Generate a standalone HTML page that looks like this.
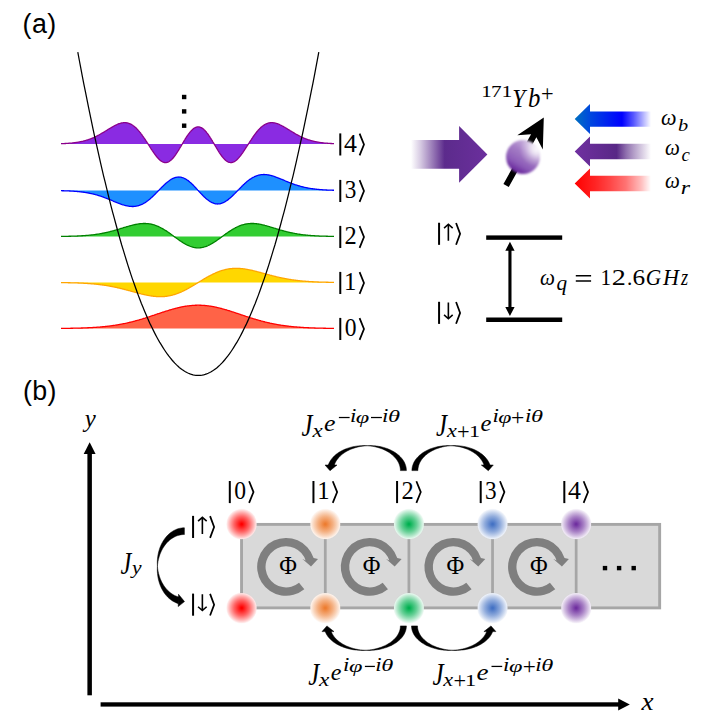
<!DOCTYPE html>
<html><head><meta charset="utf-8"><title>figure</title>
<style>
html,body{margin:0;padding:0;background:#fff;}
body{width:716px;height:723px;overflow:hidden;font-family:"Liberation Sans",sans-serif;}
svg{display:block;}
text{fill:#000;}
</style></head><body>
<svg width="716" height="723" viewBox="0 0 716 723">
<defs>
<linearGradient id="gBig" x1="0" x2="1" y1="0" y2="0">
<stop offset="0" stop-color="#5c2b8c" stop-opacity="0"/>
<stop offset="0.12" stop-color="#5c2b8c" stop-opacity="0.24"/>
<stop offset="0.44" stop-color="#5c2b8c" stop-opacity="1"/>
<stop offset="1" stop-color="#6b2f9d" stop-opacity="1"/>
</linearGradient>
<linearGradient id="gBlue" x1="0" x2="1" y1="0" y2="0">
<stop offset="0" stop-color="#0070c0"/>
<stop offset="0.2" stop-color="#0048de"/>
<stop offset="0.62" stop-color="#0000ff"/>
<stop offset="0.77" stop-color="#0000ff" stop-opacity="0.66"/>
<stop offset="0.87" stop-color="#0000ff" stop-opacity="0.38"/>
<stop offset="1" stop-color="#0000ff" stop-opacity="0"/>
</linearGradient>
<linearGradient id="gPur" x1="0" x2="1" y1="0" y2="0">
<stop offset="0" stop-color="#7030a0"/>
<stop offset="0.55" stop-color="#582886"/>
<stop offset="0.67" stop-color="#582886" stop-opacity="0.68"/>
<stop offset="0.77" stop-color="#582886" stop-opacity="0.46"/>
<stop offset="0.87" stop-color="#582886" stop-opacity="0.26"/>
<stop offset="1" stop-color="#582886" stop-opacity="0"/>
</linearGradient>
<linearGradient id="gRed" x1="0" x2="1" y1="0" y2="0">
<stop offset="0" stop-color="#ff0000"/>
<stop offset="0.27" stop-color="#ff0000" stop-opacity="0.86"/>
<stop offset="0.47" stop-color="#ff0000" stop-opacity="0.72"/>
<stop offset="0.67" stop-color="#ff0000" stop-opacity="0.55"/>
<stop offset="0.87" stop-color="#ff0000" stop-opacity="0.26"/>
<stop offset="1" stop-color="#ff0000" stop-opacity="0"/>
</linearGradient>
<linearGradient id="gIon" gradientUnits="userSpaceOnUse" x1="531.5" y1="142.3" x2="514.5" y2="171.7">
<stop offset="0" stop-color="#cbb4de"/>
<stop offset="0.37" stop-color="#a47cc6"/>
<stop offset="0.5" stop-color="#9c72c0"/>
<stop offset="0.63" stop-color="#9466bc"/>
<stop offset="0.75" stop-color="#8a58b6"/>
<stop offset="0.93" stop-color="#6e30a0"/>
<stop offset="1" stop-color="#6a2c98"/>
</linearGradient>
<radialGradient id="gIonH" gradientUnits="userSpaceOnUse" cx="537" cy="149" r="17.5">
<stop offset="0" stop-color="#fff" stop-opacity="0.95"/>
<stop offset="0.3" stop-color="#fff" stop-opacity="0.72"/>
<stop offset="0.65" stop-color="#fff" stop-opacity="0.3"/>
<stop offset="1" stop-color="#fff" stop-opacity="0"/>
</radialGradient>
<filter id="soft" x="-20%" y="-20%" width="140%" height="140%"><feGaussianBlur stdDeviation="1.1"/></filter>
<radialGradient id="ball0" cx="0.5" cy="0.5" r="0.5">
<stop offset="0" stop-color="#ff0000"/>
<stop offset="0.05" stop-color="#ff0000"/>
<stop offset="0.5" stop-color="#ff0000" stop-opacity="0.6"/>
<stop offset="0.75" stop-color="#ff0000" stop-opacity="0.33"/>
<stop offset="0.92" stop-color="#ff0000" stop-opacity="0.13"/>
<stop offset="1" stop-color="#ff0000" stop-opacity="0.03"/>
</radialGradient>
<radialGradient id="ball1" cx="0.5" cy="0.5" r="0.5">
<stop offset="0" stop-color="#ed7d31"/>
<stop offset="0.05" stop-color="#ed7d31"/>
<stop offset="0.5" stop-color="#ed7d31" stop-opacity="0.6"/>
<stop offset="0.75" stop-color="#ed7d31" stop-opacity="0.33"/>
<stop offset="0.92" stop-color="#ed7d31" stop-opacity="0.13"/>
<stop offset="1" stop-color="#ed7d31" stop-opacity="0.03"/>
</radialGradient>
<radialGradient id="ball2" cx="0.5" cy="0.5" r="0.5">
<stop offset="0" stop-color="#00b050"/>
<stop offset="0.05" stop-color="#00b050"/>
<stop offset="0.5" stop-color="#00b050" stop-opacity="0.6"/>
<stop offset="0.75" stop-color="#00b050" stop-opacity="0.33"/>
<stop offset="0.92" stop-color="#00b050" stop-opacity="0.13"/>
<stop offset="1" stop-color="#00b050" stop-opacity="0.03"/>
</radialGradient>
<radialGradient id="ball3" cx="0.5" cy="0.5" r="0.5">
<stop offset="0" stop-color="#4472c4"/>
<stop offset="0.05" stop-color="#4472c4"/>
<stop offset="0.5" stop-color="#4472c4" stop-opacity="0.6"/>
<stop offset="0.75" stop-color="#4472c4" stop-opacity="0.33"/>
<stop offset="0.92" stop-color="#4472c4" stop-opacity="0.13"/>
<stop offset="1" stop-color="#4472c4" stop-opacity="0.03"/>
</radialGradient>
<radialGradient id="ball4" cx="0.5" cy="0.5" r="0.5">
<stop offset="0" stop-color="#7030a0"/>
<stop offset="0.05" stop-color="#7030a0"/>
<stop offset="0.5" stop-color="#7030a0" stop-opacity="0.6"/>
<stop offset="0.75" stop-color="#7030a0" stop-opacity="0.33"/>
<stop offset="0.92" stop-color="#7030a0" stop-opacity="0.13"/>
<stop offset="1" stop-color="#7030a0" stop-opacity="0.03"/>
</radialGradient>
<radialGradient id="ballw" cx="0.5" cy="0.5" r="0.5">
<stop offset="0" stop-color="#fff"/>
<stop offset="0.93" stop-color="#fff"/>
<stop offset="1" stop-color="#fff" stop-opacity="0"/>
</radialGradient>
</defs>
<rect width="716" height="723" fill="#fff"/>
<text x="22.60" y="33.30" font-family="'Liberation Sans', sans-serif" font-size="26.8" text-anchor="start" letter-spacing="0.45">(a)</text>
<text x="22.90" y="400.20" font-family="'Liberation Sans', sans-serif" font-size="26.8" text-anchor="start" letter-spacing="0.45">(b)</text>
<path d="M61.0,144.00 L61.0,143.69 61.7,143.67 62.3,143.64 63.0,143.62 63.6,143.59 64.3,143.56 64.9,143.52 65.6,143.49 66.2,143.45 66.9,143.41 67.5,143.36 68.2,143.32 68.8,143.27 69.5,143.22 70.1,143.16 70.8,143.10 71.4,143.04 72.1,142.98 72.7,142.91 73.4,142.83 74.0,142.75 74.7,142.67 75.3,142.59 76.0,142.49 76.6,142.40 77.3,142.29 77.9,142.19 78.6,142.08 79.2,141.96 79.9,141.83 80.5,141.70 81.2,141.57 81.8,141.42 82.5,141.27 83.2,141.11 83.8,140.95 84.5,140.78 85.1,140.60 85.8,140.42 86.4,140.22 87.1,140.02 87.7,139.81 88.4,139.59 89.0,139.37 89.7,139.13 90.3,138.89 91.0,138.64 91.6,138.38 92.3,138.11 92.9,137.84 93.6,137.55 94.2,137.26 94.9,136.96 95.5,136.65 96.2,136.33 96.8,136.00 97.5,135.67 98.1,135.33 98.8,134.98 99.4,134.62 100.1,134.26 100.7,133.89 101.4,133.52 102.0,133.14 102.7,132.75 103.4,132.36 104.0,131.97 104.7,131.57 105.3,131.17 106.0,130.77 106.6,130.37 107.3,129.96 107.9,129.56 108.6,129.16 109.2,128.76 109.9,128.36 110.5,127.97 111.2,127.58 111.8,127.20 112.5,126.83 113.1,126.46 113.8,126.10 114.4,125.76 115.1,125.42 115.7,125.10 116.4,124.79 117.0,124.50 117.7,124.23 118.3,123.97 119.0,123.73 119.6,123.52 120.3,123.32 120.9,123.15 121.6,123.00 122.2,122.88 122.9,122.78 123.5,122.72 124.2,122.68 124.9,122.67 125.5,122.69 126.2,122.75 126.8,122.84 127.5,122.96 128.1,123.11 128.8,123.31 129.4,123.53 130.1,123.80 130.7,124.10 131.4,124.44 132.0,124.81 132.7,125.22 133.3,125.67 134.0,126.16 134.6,126.69 135.3,127.25 135.9,127.85 136.6,128.48 137.2,129.15 137.9,129.85 138.5,130.58 139.2,131.35 139.8,132.14 140.5,132.97 141.1,133.82 141.8,134.70 142.4,135.60 143.1,136.52 143.7,137.47 144.4,138.43 145.1,139.41 145.7,140.40 146.4,141.40 147.0,142.41 147.7,143.43 148.3,144.45 149.0,145.48 149.6,146.50 150.3,147.51 150.9,148.52 151.6,149.52 152.2,150.51 152.9,151.48 153.5,152.43 154.2,153.36 154.8,154.26 155.5,155.14 156.1,155.98 156.8,156.78 157.4,157.55 158.1,158.27 158.7,158.95 159.4,159.58 160.0,160.16 160.7,160.68 161.3,161.14 162.0,161.54 162.6,161.88 163.3,162.15 163.9,162.36 164.6,162.49 165.2,162.56 165.9,162.56 166.6,162.48 167.2,162.34 167.9,162.12 168.5,161.83 169.2,161.48 169.8,161.06 170.5,160.57 171.1,160.02 171.8,159.41 172.4,158.74 173.1,158.01 173.7,157.24 174.4,156.41 175.0,155.54 175.7,154.63 176.3,153.68 177.0,152.70 177.6,151.69 178.3,150.65 178.9,149.59 179.6,148.51 180.2,147.42 180.9,146.32 181.5,145.21 182.2,144.11 182.8,143.00 183.5,141.90 184.1,140.81 184.8,139.74 185.4,138.68 186.1,137.65 186.7,136.64 187.4,135.67 188.1,134.73 188.7,133.83 189.4,132.97 190.0,132.15 190.7,131.39 191.3,130.67 192.0,130.01 192.6,129.41 193.3,128.86 193.9,128.38 194.6,127.97 195.2,127.62 195.9,127.33 196.5,127.12 197.2,126.97 197.8,126.90 198.5,126.89 199.1,126.96 199.8,127.09 200.4,127.30 201.1,127.57 201.7,127.91 202.4,128.32 203.0,128.79 203.7,129.32 204.3,129.92 205.0,130.57 205.6,131.28 206.3,132.04 206.9,132.84 207.6,133.70 208.3,134.59 208.9,135.53 209.6,136.50 210.2,137.50 210.9,138.53 211.5,139.58 212.2,140.65 212.8,141.74 213.5,142.84 214.1,143.94 214.8,145.05 215.4,146.16 216.1,147.26 216.7,148.35 217.4,149.43 218.0,150.50 218.7,151.54 219.3,152.55 220.0,153.54 220.6,154.49 221.3,155.41 221.9,156.29 222.6,157.12 223.2,157.90 223.9,158.63 224.5,159.31 225.2,159.93 225.8,160.49 226.5,160.99 227.1,161.42 227.8,161.79 228.4,162.08 229.1,162.31 229.8,162.47 230.4,162.55 231.1,162.57 231.7,162.51 232.4,162.38 233.0,162.19 233.7,161.92 234.3,161.60 235.0,161.20 235.6,160.75 236.3,160.24 236.9,159.67 237.6,159.05 238.2,158.38 238.9,157.66 239.5,156.90 240.2,156.10 240.8,155.27 241.5,154.40 242.1,153.50 242.8,152.57 243.4,151.62 244.1,150.66 244.7,149.67 245.4,148.67 246.0,147.67 246.7,146.65 247.3,145.63 248.0,144.60 248.6,143.58 249.3,142.56 249.9,141.55 250.6,140.55 251.3,139.55 251.9,138.57 252.6,137.61 253.2,136.66 253.9,135.74 254.5,134.83 255.2,133.95 255.8,133.09 256.5,132.26 257.1,131.46 257.8,130.69 258.4,129.95 259.1,129.25 259.7,128.58 260.4,127.94 261.0,127.33 261.7,126.77 262.3,126.24 263.0,125.74 263.6,125.29 264.3,124.87 264.9,124.49 265.6,124.15 266.2,123.84 266.9,123.57 267.5,123.34 268.2,123.14 268.8,122.98 269.5,122.85 270.1,122.76 270.8,122.70 271.5,122.67 272.1,122.67 272.8,122.71 273.4,122.77 274.1,122.86 274.7,122.98 275.4,123.13 276.0,123.29 276.7,123.49 277.3,123.70 278.0,123.93 278.6,124.19 279.3,124.46 279.9,124.75 280.6,125.05 281.2,125.37 281.9,125.71 282.5,126.05 283.2,126.41 283.8,126.77 284.5,127.14 285.1,127.52 285.8,127.91 286.4,128.30 287.1,128.70 287.7,129.10 288.4,129.50 289.0,129.90 289.7,130.31 290.3,130.71 291.0,131.11 291.6,131.51 292.3,131.91 293.0,132.30 293.6,132.69 294.3,133.08 294.9,133.46 295.6,133.83 296.2,134.20 296.9,134.57 297.5,134.92 298.2,135.27 298.8,135.62 299.5,135.95 300.1,136.28 300.8,136.60 301.4,136.91 302.1,137.21 302.7,137.51 303.4,137.79 304.0,138.07 304.7,138.34 305.3,138.60 306.0,138.85 306.6,139.10 307.3,139.33 307.9,139.56 308.6,139.78 309.2,139.99 309.9,140.19 310.5,140.39 311.2,140.57 311.8,140.75 312.5,140.93 313.2,141.09 313.8,141.25 314.5,141.40 315.1,141.54 315.8,141.68 316.4,141.81 317.1,141.94 317.7,142.06 318.4,142.17 319.0,142.28 319.7,142.38 320.3,142.48 321.0,142.57 321.6,142.66 322.3,142.74 322.9,142.82 323.6,142.90 324.2,142.97 324.9,143.03 325.5,143.09 326.2,143.15 326.8,143.21 327.5,143.26 328.1,143.31 328.8,143.36 329.4,143.40 330.1,143.44 330.7,143.48 331.4,143.52 332.0,143.55 332.7,143.58 333.3,143.61 334.0,143.64 L334.0,144.00 Z" fill="#8a2be2"/>
<polyline points="61.0,143.69 61.7,143.67 62.3,143.64 63.0,143.62 63.6,143.59 64.3,143.56 64.9,143.52 65.6,143.49 66.2,143.45 66.9,143.41 67.5,143.36 68.2,143.32 68.8,143.27 69.5,143.22 70.1,143.16 70.8,143.10 71.4,143.04 72.1,142.98 72.7,142.91 73.4,142.83 74.0,142.75 74.7,142.67 75.3,142.59 76.0,142.49 76.6,142.40 77.3,142.29 77.9,142.19 78.6,142.08 79.2,141.96 79.9,141.83 80.5,141.70 81.2,141.57 81.8,141.42 82.5,141.27 83.2,141.11 83.8,140.95 84.5,140.78 85.1,140.60 85.8,140.42 86.4,140.22 87.1,140.02 87.7,139.81 88.4,139.59 89.0,139.37 89.7,139.13 90.3,138.89 91.0,138.64 91.6,138.38 92.3,138.11 92.9,137.84 93.6,137.55 94.2,137.26 94.9,136.96 95.5,136.65 96.2,136.33 96.8,136.00 97.5,135.67 98.1,135.33 98.8,134.98 99.4,134.62 100.1,134.26 100.7,133.89 101.4,133.52 102.0,133.14 102.7,132.75 103.4,132.36 104.0,131.97 104.7,131.57 105.3,131.17 106.0,130.77 106.6,130.37 107.3,129.96 107.9,129.56 108.6,129.16 109.2,128.76 109.9,128.36 110.5,127.97 111.2,127.58 111.8,127.20 112.5,126.83 113.1,126.46 113.8,126.10 114.4,125.76 115.1,125.42 115.7,125.10 116.4,124.79 117.0,124.50 117.7,124.23 118.3,123.97 119.0,123.73 119.6,123.52 120.3,123.32 120.9,123.15 121.6,123.00 122.2,122.88 122.9,122.78 123.5,122.72 124.2,122.68 124.9,122.67 125.5,122.69 126.2,122.75 126.8,122.84 127.5,122.96 128.1,123.11 128.8,123.31 129.4,123.53 130.1,123.80 130.7,124.10 131.4,124.44 132.0,124.81 132.7,125.22 133.3,125.67 134.0,126.16 134.6,126.69 135.3,127.25 135.9,127.85 136.6,128.48 137.2,129.15 137.9,129.85 138.5,130.58 139.2,131.35 139.8,132.14 140.5,132.97 141.1,133.82 141.8,134.70 142.4,135.60 143.1,136.52 143.7,137.47 144.4,138.43 145.1,139.41 145.7,140.40 146.4,141.40 147.0,142.41 147.7,143.43 148.3,144.45 149.0,145.48 149.6,146.50 150.3,147.51 150.9,148.52 151.6,149.52 152.2,150.51 152.9,151.48 153.5,152.43 154.2,153.36 154.8,154.26 155.5,155.14 156.1,155.98 156.8,156.78 157.4,157.55 158.1,158.27 158.7,158.95 159.4,159.58 160.0,160.16 160.7,160.68 161.3,161.14 162.0,161.54 162.6,161.88 163.3,162.15 163.9,162.36 164.6,162.49 165.2,162.56 165.9,162.56 166.6,162.48 167.2,162.34 167.9,162.12 168.5,161.83 169.2,161.48 169.8,161.06 170.5,160.57 171.1,160.02 171.8,159.41 172.4,158.74 173.1,158.01 173.7,157.24 174.4,156.41 175.0,155.54 175.7,154.63 176.3,153.68 177.0,152.70 177.6,151.69 178.3,150.65 178.9,149.59 179.6,148.51 180.2,147.42 180.9,146.32 181.5,145.21 182.2,144.11 182.8,143.00 183.5,141.90 184.1,140.81 184.8,139.74 185.4,138.68 186.1,137.65 186.7,136.64 187.4,135.67 188.1,134.73 188.7,133.83 189.4,132.97 190.0,132.15 190.7,131.39 191.3,130.67 192.0,130.01 192.6,129.41 193.3,128.86 193.9,128.38 194.6,127.97 195.2,127.62 195.9,127.33 196.5,127.12 197.2,126.97 197.8,126.90 198.5,126.89 199.1,126.96 199.8,127.09 200.4,127.30 201.1,127.57 201.7,127.91 202.4,128.32 203.0,128.79 203.7,129.32 204.3,129.92 205.0,130.57 205.6,131.28 206.3,132.04 206.9,132.84 207.6,133.70 208.3,134.59 208.9,135.53 209.6,136.50 210.2,137.50 210.9,138.53 211.5,139.58 212.2,140.65 212.8,141.74 213.5,142.84 214.1,143.94 214.8,145.05 215.4,146.16 216.1,147.26 216.7,148.35 217.4,149.43 218.0,150.50 218.7,151.54 219.3,152.55 220.0,153.54 220.6,154.49 221.3,155.41 221.9,156.29 222.6,157.12 223.2,157.90 223.9,158.63 224.5,159.31 225.2,159.93 225.8,160.49 226.5,160.99 227.1,161.42 227.8,161.79 228.4,162.08 229.1,162.31 229.8,162.47 230.4,162.55 231.1,162.57 231.7,162.51 232.4,162.38 233.0,162.19 233.7,161.92 234.3,161.60 235.0,161.20 235.6,160.75 236.3,160.24 236.9,159.67 237.6,159.05 238.2,158.38 238.9,157.66 239.5,156.90 240.2,156.10 240.8,155.27 241.5,154.40 242.1,153.50 242.8,152.57 243.4,151.62 244.1,150.66 244.7,149.67 245.4,148.67 246.0,147.67 246.7,146.65 247.3,145.63 248.0,144.60 248.6,143.58 249.3,142.56 249.9,141.55 250.6,140.55 251.3,139.55 251.9,138.57 252.6,137.61 253.2,136.66 253.9,135.74 254.5,134.83 255.2,133.95 255.8,133.09 256.5,132.26 257.1,131.46 257.8,130.69 258.4,129.95 259.1,129.25 259.7,128.58 260.4,127.94 261.0,127.33 261.7,126.77 262.3,126.24 263.0,125.74 263.6,125.29 264.3,124.87 264.9,124.49 265.6,124.15 266.2,123.84 266.9,123.57 267.5,123.34 268.2,123.14 268.8,122.98 269.5,122.85 270.1,122.76 270.8,122.70 271.5,122.67 272.1,122.67 272.8,122.71 273.4,122.77 274.1,122.86 274.7,122.98 275.4,123.13 276.0,123.29 276.7,123.49 277.3,123.70 278.0,123.93 278.6,124.19 279.3,124.46 279.9,124.75 280.6,125.05 281.2,125.37 281.9,125.71 282.5,126.05 283.2,126.41 283.8,126.77 284.5,127.14 285.1,127.52 285.8,127.91 286.4,128.30 287.1,128.70 287.7,129.10 288.4,129.50 289.0,129.90 289.7,130.31 290.3,130.71 291.0,131.11 291.6,131.51 292.3,131.91 293.0,132.30 293.6,132.69 294.3,133.08 294.9,133.46 295.6,133.83 296.2,134.20 296.9,134.57 297.5,134.92 298.2,135.27 298.8,135.62 299.5,135.95 300.1,136.28 300.8,136.60 301.4,136.91 302.1,137.21 302.7,137.51 303.4,137.79 304.0,138.07 304.7,138.34 305.3,138.60 306.0,138.85 306.6,139.10 307.3,139.33 307.9,139.56 308.6,139.78 309.2,139.99 309.9,140.19 310.5,140.39 311.2,140.57 311.8,140.75 312.5,140.93 313.2,141.09 313.8,141.25 314.5,141.40 315.1,141.54 315.8,141.68 316.4,141.81 317.1,141.94 317.7,142.06 318.4,142.17 319.0,142.28 319.7,142.38 320.3,142.48 321.0,142.57 321.6,142.66 322.3,142.74 322.9,142.82 323.6,142.90 324.2,142.97 324.9,143.03 325.5,143.09 326.2,143.15 326.8,143.21 327.5,143.26 328.1,143.31 328.8,143.36 329.4,143.40 330.1,143.44 330.7,143.48 331.4,143.52 332.0,143.55 332.7,143.58 333.3,143.61 334.0,143.64" fill="none" stroke="#8b008b" stroke-width="1.3" stroke-linejoin="round"/>
<path d="M61.0,190.50 L61.0,190.70 61.7,190.71 62.3,190.73 63.0,190.75 63.6,190.76 64.3,190.78 64.9,190.80 65.6,190.82 66.2,190.85 66.9,190.87 67.5,190.90 68.2,190.92 68.8,190.95 69.5,190.98 70.1,191.01 70.8,191.05 71.4,191.08 72.1,191.12 72.7,191.16 73.4,191.20 74.0,191.24 74.7,191.29 75.3,191.34 76.0,191.39 76.6,191.44 77.3,191.50 77.9,191.56 78.6,191.62 79.2,191.69 79.9,191.76 80.5,191.83 81.2,191.91 81.8,191.98 82.5,192.07 83.2,192.15 83.8,192.24 84.5,192.34 85.1,192.44 85.8,192.54 86.4,192.64 87.1,192.75 87.7,192.87 88.4,192.99 89.0,193.11 89.7,193.24 90.3,193.38 91.0,193.52 91.6,193.66 92.3,193.81 92.9,193.96 93.6,194.12 94.2,194.28 94.9,194.45 95.5,194.63 96.2,194.81 96.8,194.99 97.5,195.18 98.1,195.38 98.8,195.58 99.4,195.78 100.1,195.99 100.7,196.21 101.4,196.43 102.0,196.65 102.7,196.88 103.4,197.12 104.0,197.36 104.7,197.60 105.3,197.85 106.0,198.10 106.6,198.35 107.3,198.61 107.9,198.87 108.6,199.13 109.2,199.40 109.9,199.67 110.5,199.94 111.2,200.21 111.8,200.48 112.5,200.75 113.1,201.03 113.8,201.30 114.4,201.57 115.1,201.84 115.7,202.11 116.4,202.38 117.0,202.64 117.7,202.90 118.3,203.16 119.0,203.41 119.6,203.66 120.3,203.90 120.9,204.13 121.6,204.36 122.2,204.58 122.9,204.79 123.5,204.99 124.2,205.19 124.9,205.37 125.5,205.54 126.2,205.70 126.8,205.84 127.5,205.98 128.1,206.10 128.8,206.20 129.4,206.29 130.1,206.37 130.7,206.42 131.4,206.46 132.0,206.49 132.7,206.49 133.3,206.48 134.0,206.44 134.6,206.39 135.3,206.31 135.9,206.22 136.6,206.11 137.2,205.97 137.9,205.81 138.5,205.63 139.2,205.43 139.8,205.20 140.5,204.96 141.1,204.69 141.8,204.40 142.4,204.08 143.1,203.75 143.7,203.39 144.4,203.01 145.1,202.61 145.7,202.18 146.4,201.74 147.0,201.28 147.7,200.79 148.3,200.29 149.0,199.77 149.6,199.23 150.3,198.68 150.9,198.11 151.6,197.52 152.2,196.92 152.9,196.31 153.5,195.68 154.2,195.05 154.8,194.40 155.5,193.75 156.1,193.09 156.8,192.42 157.4,191.75 158.1,191.08 158.7,190.40 159.4,189.73 160.0,189.06 160.7,188.39 161.3,187.73 162.0,187.07 162.6,186.42 163.3,185.78 163.9,185.15 164.6,184.53 165.2,183.93 165.9,183.35 166.6,182.78 167.2,182.23 167.9,181.70 168.5,181.19 169.2,180.71 169.8,180.25 170.5,179.82 171.1,179.41 171.8,179.03 172.4,178.69 173.1,178.37 173.7,178.08 174.4,177.83 175.0,177.61 175.7,177.42 176.3,177.27 177.0,177.16 177.6,177.08 178.3,177.03 178.9,177.02 179.6,177.05 180.2,177.12 180.9,177.22 181.5,177.35 182.2,177.53 182.8,177.74 183.5,177.98 184.1,178.26 184.8,178.57 185.4,178.92 186.1,179.30 186.7,179.71 187.4,180.15 188.1,180.61 188.7,181.11 189.4,181.63 190.0,182.18 190.7,182.75 191.3,183.35 192.0,183.96 192.6,184.59 193.3,185.24 193.9,185.90 194.6,186.58 195.2,187.27 195.9,187.96 196.5,188.67 197.2,189.38 197.8,190.09 198.5,190.80 199.1,191.52 199.8,192.23 200.4,192.93 201.1,193.63 201.7,194.32 202.4,195.00 203.0,195.66 203.7,196.31 204.3,196.95 205.0,197.56 205.6,198.16 206.3,198.74 206.9,199.29 207.6,199.81 208.3,200.31 208.9,200.79 209.6,201.23 210.2,201.64 210.9,202.03 211.5,202.38 212.2,202.70 212.8,202.98 213.5,203.23 214.1,203.44 214.8,203.62 215.4,203.76 216.1,203.87 216.7,203.94 217.4,203.98 218.0,203.97 218.7,203.93 219.3,203.86 220.0,203.75 220.6,203.60 221.3,203.42 221.9,203.21 222.6,202.96 223.2,202.68 223.9,202.36 224.5,202.02 225.2,201.65 225.8,201.25 226.5,200.82 227.1,200.36 227.8,199.88 228.4,199.38 229.1,198.85 229.8,198.31 230.4,197.74 231.1,197.16 231.7,196.56 232.4,195.94 233.0,195.32 233.7,194.68 234.3,194.03 235.0,193.37 235.6,192.71 236.3,192.04 236.9,191.37 237.6,190.70 238.2,190.02 238.9,189.35 239.5,188.68 240.2,188.01 240.8,187.35 241.5,186.69 242.1,186.05 242.8,185.41 243.4,184.78 244.1,184.17 244.7,183.57 245.4,182.98 246.0,182.41 246.7,181.85 247.3,181.31 248.0,180.78 248.6,180.28 249.3,179.79 249.9,179.33 250.6,178.88 251.3,178.45 251.9,178.05 252.6,177.67 253.2,177.31 253.9,176.97 254.5,176.65 255.2,176.35 255.8,176.08 256.5,175.83 257.1,175.60 257.8,175.40 258.4,175.21 259.1,175.05 259.7,174.91 260.4,174.80 261.0,174.70 261.7,174.62 262.3,174.56 263.0,174.53 263.6,174.51 264.3,174.51 264.9,174.53 265.6,174.57 266.2,174.63 266.9,174.70 267.5,174.78 268.2,174.89 268.8,175.00 269.5,175.13 270.1,175.28 270.8,175.44 271.5,175.61 272.1,175.79 272.8,175.98 273.4,176.18 274.1,176.39 274.7,176.61 275.4,176.83 276.0,177.07 276.7,177.31 277.3,177.55 278.0,177.80 278.6,178.06 279.3,178.32 279.9,178.58 280.6,178.85 281.2,179.12 281.9,179.39 282.5,179.66 283.2,179.93 283.8,180.21 284.5,180.48 285.1,180.75 285.8,181.02 286.4,181.29 287.1,181.56 287.7,181.83 288.4,182.09 289.0,182.35 289.7,182.61 290.3,182.86 291.0,183.12 291.6,183.36 292.3,183.61 293.0,183.85 293.6,184.08 294.3,184.31 294.9,184.54 295.6,184.76 296.2,184.97 296.9,185.19 297.5,185.39 298.2,185.59 298.8,185.79 299.5,185.98 300.1,186.17 300.8,186.35 301.4,186.52 302.1,186.69 302.7,186.86 303.4,187.01 304.0,187.17 304.7,187.32 305.3,187.46 306.0,187.60 306.6,187.74 307.3,187.87 307.9,187.99 308.6,188.11 309.2,188.23 309.9,188.34 310.5,188.45 311.2,188.55 311.8,188.65 312.5,188.74 313.2,188.83 313.8,188.92 314.5,189.00 315.1,189.08 315.8,189.16 316.4,189.23 317.1,189.30 317.7,189.37 318.4,189.43 319.0,189.49 319.7,189.55 320.3,189.60 321.0,189.65 321.6,189.70 322.3,189.75 322.9,189.79 323.6,189.84 324.2,189.88 324.9,189.91 325.5,189.95 326.2,189.98 326.8,190.01 327.5,190.04 328.1,190.07 328.8,190.10 329.4,190.13 330.1,190.15 330.7,190.17 331.4,190.19 332.0,190.21 332.7,190.23 333.3,190.25 334.0,190.27 L334.0,190.50 Z" fill="#1e90ff"/>
<polyline points="61.0,190.70 61.7,190.71 62.3,190.73 63.0,190.75 63.6,190.76 64.3,190.78 64.9,190.80 65.6,190.82 66.2,190.85 66.9,190.87 67.5,190.90 68.2,190.92 68.8,190.95 69.5,190.98 70.1,191.01 70.8,191.05 71.4,191.08 72.1,191.12 72.7,191.16 73.4,191.20 74.0,191.24 74.7,191.29 75.3,191.34 76.0,191.39 76.6,191.44 77.3,191.50 77.9,191.56 78.6,191.62 79.2,191.69 79.9,191.76 80.5,191.83 81.2,191.91 81.8,191.98 82.5,192.07 83.2,192.15 83.8,192.24 84.5,192.34 85.1,192.44 85.8,192.54 86.4,192.64 87.1,192.75 87.7,192.87 88.4,192.99 89.0,193.11 89.7,193.24 90.3,193.38 91.0,193.52 91.6,193.66 92.3,193.81 92.9,193.96 93.6,194.12 94.2,194.28 94.9,194.45 95.5,194.63 96.2,194.81 96.8,194.99 97.5,195.18 98.1,195.38 98.8,195.58 99.4,195.78 100.1,195.99 100.7,196.21 101.4,196.43 102.0,196.65 102.7,196.88 103.4,197.12 104.0,197.36 104.7,197.60 105.3,197.85 106.0,198.10 106.6,198.35 107.3,198.61 107.9,198.87 108.6,199.13 109.2,199.40 109.9,199.67 110.5,199.94 111.2,200.21 111.8,200.48 112.5,200.75 113.1,201.03 113.8,201.30 114.4,201.57 115.1,201.84 115.7,202.11 116.4,202.38 117.0,202.64 117.7,202.90 118.3,203.16 119.0,203.41 119.6,203.66 120.3,203.90 120.9,204.13 121.6,204.36 122.2,204.58 122.9,204.79 123.5,204.99 124.2,205.19 124.9,205.37 125.5,205.54 126.2,205.70 126.8,205.84 127.5,205.98 128.1,206.10 128.8,206.20 129.4,206.29 130.1,206.37 130.7,206.42 131.4,206.46 132.0,206.49 132.7,206.49 133.3,206.48 134.0,206.44 134.6,206.39 135.3,206.31 135.9,206.22 136.6,206.11 137.2,205.97 137.9,205.81 138.5,205.63 139.2,205.43 139.8,205.20 140.5,204.96 141.1,204.69 141.8,204.40 142.4,204.08 143.1,203.75 143.7,203.39 144.4,203.01 145.1,202.61 145.7,202.18 146.4,201.74 147.0,201.28 147.7,200.79 148.3,200.29 149.0,199.77 149.6,199.23 150.3,198.68 150.9,198.11 151.6,197.52 152.2,196.92 152.9,196.31 153.5,195.68 154.2,195.05 154.8,194.40 155.5,193.75 156.1,193.09 156.8,192.42 157.4,191.75 158.1,191.08 158.7,190.40 159.4,189.73 160.0,189.06 160.7,188.39 161.3,187.73 162.0,187.07 162.6,186.42 163.3,185.78 163.9,185.15 164.6,184.53 165.2,183.93 165.9,183.35 166.6,182.78 167.2,182.23 167.9,181.70 168.5,181.19 169.2,180.71 169.8,180.25 170.5,179.82 171.1,179.41 171.8,179.03 172.4,178.69 173.1,178.37 173.7,178.08 174.4,177.83 175.0,177.61 175.7,177.42 176.3,177.27 177.0,177.16 177.6,177.08 178.3,177.03 178.9,177.02 179.6,177.05 180.2,177.12 180.9,177.22 181.5,177.35 182.2,177.53 182.8,177.74 183.5,177.98 184.1,178.26 184.8,178.57 185.4,178.92 186.1,179.30 186.7,179.71 187.4,180.15 188.1,180.61 188.7,181.11 189.4,181.63 190.0,182.18 190.7,182.75 191.3,183.35 192.0,183.96 192.6,184.59 193.3,185.24 193.9,185.90 194.6,186.58 195.2,187.27 195.9,187.96 196.5,188.67 197.2,189.38 197.8,190.09 198.5,190.80 199.1,191.52 199.8,192.23 200.4,192.93 201.1,193.63 201.7,194.32 202.4,195.00 203.0,195.66 203.7,196.31 204.3,196.95 205.0,197.56 205.6,198.16 206.3,198.74 206.9,199.29 207.6,199.81 208.3,200.31 208.9,200.79 209.6,201.23 210.2,201.64 210.9,202.03 211.5,202.38 212.2,202.70 212.8,202.98 213.5,203.23 214.1,203.44 214.8,203.62 215.4,203.76 216.1,203.87 216.7,203.94 217.4,203.98 218.0,203.97 218.7,203.93 219.3,203.86 220.0,203.75 220.6,203.60 221.3,203.42 221.9,203.21 222.6,202.96 223.2,202.68 223.9,202.36 224.5,202.02 225.2,201.65 225.8,201.25 226.5,200.82 227.1,200.36 227.8,199.88 228.4,199.38 229.1,198.85 229.8,198.31 230.4,197.74 231.1,197.16 231.7,196.56 232.4,195.94 233.0,195.32 233.7,194.68 234.3,194.03 235.0,193.37 235.6,192.71 236.3,192.04 236.9,191.37 237.6,190.70 238.2,190.02 238.9,189.35 239.5,188.68 240.2,188.01 240.8,187.35 241.5,186.69 242.1,186.05 242.8,185.41 243.4,184.78 244.1,184.17 244.7,183.57 245.4,182.98 246.0,182.41 246.7,181.85 247.3,181.31 248.0,180.78 248.6,180.28 249.3,179.79 249.9,179.33 250.6,178.88 251.3,178.45 251.9,178.05 252.6,177.67 253.2,177.31 253.9,176.97 254.5,176.65 255.2,176.35 255.8,176.08 256.5,175.83 257.1,175.60 257.8,175.40 258.4,175.21 259.1,175.05 259.7,174.91 260.4,174.80 261.0,174.70 261.7,174.62 262.3,174.56 263.0,174.53 263.6,174.51 264.3,174.51 264.9,174.53 265.6,174.57 266.2,174.63 266.9,174.70 267.5,174.78 268.2,174.89 268.8,175.00 269.5,175.13 270.1,175.28 270.8,175.44 271.5,175.61 272.1,175.79 272.8,175.98 273.4,176.18 274.1,176.39 274.7,176.61 275.4,176.83 276.0,177.07 276.7,177.31 277.3,177.55 278.0,177.80 278.6,178.06 279.3,178.32 279.9,178.58 280.6,178.85 281.2,179.12 281.9,179.39 282.5,179.66 283.2,179.93 283.8,180.21 284.5,180.48 285.1,180.75 285.8,181.02 286.4,181.29 287.1,181.56 287.7,181.83 288.4,182.09 289.0,182.35 289.7,182.61 290.3,182.86 291.0,183.12 291.6,183.36 292.3,183.61 293.0,183.85 293.6,184.08 294.3,184.31 294.9,184.54 295.6,184.76 296.2,184.97 296.9,185.19 297.5,185.39 298.2,185.59 298.8,185.79 299.5,185.98 300.1,186.17 300.8,186.35 301.4,186.52 302.1,186.69 302.7,186.86 303.4,187.01 304.0,187.17 304.7,187.32 305.3,187.46 306.0,187.60 306.6,187.74 307.3,187.87 307.9,187.99 308.6,188.11 309.2,188.23 309.9,188.34 310.5,188.45 311.2,188.55 311.8,188.65 312.5,188.74 313.2,188.83 313.8,188.92 314.5,189.00 315.1,189.08 315.8,189.16 316.4,189.23 317.1,189.30 317.7,189.37 318.4,189.43 319.0,189.49 319.7,189.55 320.3,189.60 321.0,189.65 321.6,189.70 322.3,189.75 322.9,189.79 323.6,189.84 324.2,189.88 324.9,189.91 325.5,189.95 326.2,189.98 326.8,190.01 327.5,190.04 328.1,190.07 328.8,190.10 329.4,190.13 330.1,190.15 330.7,190.17 331.4,190.19 332.0,190.21 332.7,190.23 333.3,190.25 334.0,190.27" fill="none" stroke="#0000ff" stroke-width="1.3" stroke-linejoin="round"/>
<path d="M61.0,236.50 L61.0,236.40 61.7,236.39 62.3,236.38 63.0,236.37 63.6,236.36 64.3,236.35 64.9,236.34 65.6,236.33 66.2,236.32 66.9,236.31 67.5,236.30 68.2,236.29 68.8,236.27 69.5,236.26 70.1,236.24 70.8,236.23 71.4,236.21 72.1,236.19 72.7,236.17 73.4,236.15 74.0,236.13 74.7,236.11 75.3,236.08 76.0,236.06 76.6,236.03 77.3,236.00 77.9,235.98 78.6,235.95 79.2,235.91 79.9,235.88 80.5,235.85 81.2,235.81 81.8,235.77 82.5,235.73 83.2,235.69 83.8,235.64 84.5,235.60 85.1,235.55 85.8,235.50 86.4,235.45 87.1,235.39 87.7,235.34 88.4,235.28 89.0,235.21 89.7,235.15 90.3,235.08 91.0,235.01 91.6,234.94 92.3,234.87 92.9,234.79 93.6,234.71 94.2,234.62 94.9,234.54 95.5,234.45 96.2,234.36 96.8,234.26 97.5,234.16 98.1,234.06 98.8,233.95 99.4,233.84 100.1,233.73 100.7,233.62 101.4,233.50 102.0,233.37 102.7,233.25 103.4,233.12 104.0,232.99 104.7,232.85 105.3,232.71 106.0,232.57 106.6,232.42 107.3,232.27 107.9,232.12 108.6,231.96 109.2,231.80 109.9,231.64 110.5,231.47 111.2,231.30 111.8,231.13 112.5,230.96 113.1,230.78 113.8,230.60 114.4,230.41 115.1,230.23 115.7,230.04 116.4,229.85 117.0,229.66 117.7,229.47 118.3,229.27 119.0,229.08 119.6,228.88 120.3,228.68 120.9,228.48 121.6,228.28 122.2,228.08 122.9,227.88 123.5,227.68 124.2,227.48 124.9,227.28 125.5,227.09 126.2,226.89 126.8,226.70 127.5,226.51 128.1,226.32 128.8,226.13 129.4,225.95 130.1,225.77 130.7,225.59 131.4,225.42 132.0,225.26 132.7,225.09 133.3,224.94 134.0,224.79 134.6,224.64 135.3,224.50 135.9,224.37 136.6,224.25 137.2,224.13 137.9,224.03 138.5,223.93 139.2,223.84 139.8,223.75 140.5,223.68 141.1,223.62 141.8,223.57 142.4,223.53 143.1,223.50 143.7,223.48 144.4,223.47 145.1,223.48 145.7,223.50 146.4,223.53 147.0,223.57 147.7,223.63 148.3,223.69 149.0,223.78 149.6,223.87 150.3,223.98 150.9,224.11 151.6,224.24 152.2,224.39 152.9,224.56 153.5,224.74 154.2,224.93 154.8,225.14 155.5,225.36 156.1,225.60 156.8,225.85 157.4,226.11 158.1,226.39 158.7,226.68 159.4,226.98 160.0,227.30 160.7,227.63 161.3,227.97 162.0,228.32 162.6,228.69 163.3,229.06 163.9,229.45 164.6,229.85 165.2,230.26 165.9,230.67 166.6,231.10 167.2,231.53 167.9,231.97 168.5,232.42 169.2,232.88 169.8,233.34 170.5,233.80 171.1,234.27 171.8,234.74 172.4,235.22 173.1,235.70 173.7,236.18 174.4,236.66 175.0,237.14 175.7,237.61 176.3,238.09 177.0,238.56 177.6,239.03 178.3,239.50 178.9,239.96 179.6,240.42 180.2,240.86 180.9,241.31 181.5,241.74 182.2,242.16 182.8,242.57 183.5,242.98 184.1,243.37 184.8,243.75 185.4,244.11 186.1,244.47 186.7,244.80 187.4,245.13 188.1,245.43 188.7,245.73 189.4,246.00 190.0,246.26 190.7,246.50 191.3,246.72 192.0,246.92 192.6,247.11 193.3,247.27 193.9,247.42 194.6,247.54 195.2,247.65 195.9,247.73 196.5,247.80 197.2,247.84 197.8,247.86 198.5,247.86 199.1,247.84 199.8,247.80 200.4,247.74 201.1,247.66 201.7,247.56 202.4,247.44 203.0,247.30 203.7,247.13 204.3,246.95 205.0,246.75 205.6,246.53 206.3,246.30 206.9,246.04 207.6,245.77 208.3,245.48 208.9,245.17 209.6,244.85 210.2,244.52 210.9,244.17 211.5,243.80 212.2,243.42 212.8,243.04 213.5,242.63 214.1,242.22 214.8,241.80 215.4,241.37 216.1,240.93 216.7,240.48 217.4,240.03 218.0,239.57 218.7,239.10 219.3,238.63 220.0,238.16 220.6,237.68 221.3,237.21 221.9,236.73 222.6,236.25 223.2,235.77 223.9,235.29 224.5,234.81 225.2,234.34 225.8,233.87 226.5,233.40 227.1,232.94 227.8,232.49 228.4,232.04 229.1,231.60 229.8,231.16 230.4,230.74 231.1,230.32 231.7,229.91 232.4,229.51 233.0,229.12 233.7,228.74 234.3,228.38 235.0,228.02 235.6,227.68 236.3,227.35 236.9,227.03 237.6,226.72 238.2,226.43 238.9,226.15 239.5,225.89 240.2,225.63 240.8,225.40 241.5,225.17 242.1,224.96 242.8,224.77 243.4,224.58 244.1,224.42 244.7,224.26 245.4,224.12 246.0,224.00 246.7,223.89 247.3,223.79 248.0,223.71 248.6,223.63 249.3,223.58 249.9,223.53 250.6,223.50 251.3,223.48 251.9,223.47 252.6,223.48 253.2,223.50 253.9,223.52 254.5,223.56 255.2,223.61 255.8,223.67 256.5,223.74 257.1,223.82 257.8,223.91 258.4,224.01 259.1,224.12 259.7,224.23 260.4,224.35 261.0,224.48 261.7,224.62 262.3,224.76 263.0,224.91 263.6,225.07 264.3,225.23 264.9,225.40 265.6,225.57 266.2,225.74 266.9,225.92 267.5,226.10 268.2,226.29 268.8,226.48 269.5,226.67 270.1,226.86 270.8,227.06 271.5,227.26 272.1,227.45 272.8,227.65 273.4,227.85 274.1,228.05 274.7,228.25 275.4,228.45 276.0,228.65 276.7,228.85 277.3,229.05 278.0,229.24 278.6,229.44 279.3,229.63 279.9,229.82 280.6,230.01 281.2,230.20 281.9,230.39 282.5,230.57 283.2,230.75 283.8,230.93 284.5,231.10 285.1,231.28 285.8,231.45 286.4,231.61 287.1,231.78 287.7,231.94 288.4,232.09 289.0,232.25 289.7,232.40 290.3,232.55 291.0,232.69 291.6,232.83 292.3,232.97 293.0,233.10 293.6,233.23 294.3,233.36 294.9,233.48 295.6,233.60 296.2,233.71 296.9,233.83 297.5,233.94 298.2,234.04 298.8,234.15 299.5,234.25 300.1,234.34 300.8,234.43 301.4,234.53 302.1,234.61 302.7,234.70 303.4,234.78 304.0,234.86 304.7,234.93 305.3,235.00 306.0,235.07 306.6,235.14 307.3,235.20 307.9,235.27 308.6,235.33 309.2,235.38 309.9,235.44 310.5,235.49 311.2,235.54 311.8,235.59 312.5,235.64 313.2,235.68 313.8,235.72 314.5,235.76 315.1,235.80 315.8,235.84 316.4,235.88 317.1,235.91 317.7,235.94 318.4,235.97 319.0,236.00 319.7,236.03 320.3,236.05 321.0,236.08 321.6,236.10 322.3,236.13 322.9,236.15 323.6,236.17 324.2,236.19 324.9,236.21 325.5,236.22 326.2,236.24 326.8,236.26 327.5,236.27 328.1,236.28 328.8,236.30 329.4,236.31 330.1,236.32 330.7,236.33 331.4,236.34 332.0,236.35 332.7,236.36 333.3,236.37 334.0,236.38 L334.0,236.50 Z" fill="#32cd32"/>
<polyline points="61.0,236.40 61.7,236.39 62.3,236.38 63.0,236.37 63.6,236.36 64.3,236.35 64.9,236.34 65.6,236.33 66.2,236.32 66.9,236.31 67.5,236.30 68.2,236.29 68.8,236.27 69.5,236.26 70.1,236.24 70.8,236.23 71.4,236.21 72.1,236.19 72.7,236.17 73.4,236.15 74.0,236.13 74.7,236.11 75.3,236.08 76.0,236.06 76.6,236.03 77.3,236.00 77.9,235.98 78.6,235.95 79.2,235.91 79.9,235.88 80.5,235.85 81.2,235.81 81.8,235.77 82.5,235.73 83.2,235.69 83.8,235.64 84.5,235.60 85.1,235.55 85.8,235.50 86.4,235.45 87.1,235.39 87.7,235.34 88.4,235.28 89.0,235.21 89.7,235.15 90.3,235.08 91.0,235.01 91.6,234.94 92.3,234.87 92.9,234.79 93.6,234.71 94.2,234.62 94.9,234.54 95.5,234.45 96.2,234.36 96.8,234.26 97.5,234.16 98.1,234.06 98.8,233.95 99.4,233.84 100.1,233.73 100.7,233.62 101.4,233.50 102.0,233.37 102.7,233.25 103.4,233.12 104.0,232.99 104.7,232.85 105.3,232.71 106.0,232.57 106.6,232.42 107.3,232.27 107.9,232.12 108.6,231.96 109.2,231.80 109.9,231.64 110.5,231.47 111.2,231.30 111.8,231.13 112.5,230.96 113.1,230.78 113.8,230.60 114.4,230.41 115.1,230.23 115.7,230.04 116.4,229.85 117.0,229.66 117.7,229.47 118.3,229.27 119.0,229.08 119.6,228.88 120.3,228.68 120.9,228.48 121.6,228.28 122.2,228.08 122.9,227.88 123.5,227.68 124.2,227.48 124.9,227.28 125.5,227.09 126.2,226.89 126.8,226.70 127.5,226.51 128.1,226.32 128.8,226.13 129.4,225.95 130.1,225.77 130.7,225.59 131.4,225.42 132.0,225.26 132.7,225.09 133.3,224.94 134.0,224.79 134.6,224.64 135.3,224.50 135.9,224.37 136.6,224.25 137.2,224.13 137.9,224.03 138.5,223.93 139.2,223.84 139.8,223.75 140.5,223.68 141.1,223.62 141.8,223.57 142.4,223.53 143.1,223.50 143.7,223.48 144.4,223.47 145.1,223.48 145.7,223.50 146.4,223.53 147.0,223.57 147.7,223.63 148.3,223.69 149.0,223.78 149.6,223.87 150.3,223.98 150.9,224.11 151.6,224.24 152.2,224.39 152.9,224.56 153.5,224.74 154.2,224.93 154.8,225.14 155.5,225.36 156.1,225.60 156.8,225.85 157.4,226.11 158.1,226.39 158.7,226.68 159.4,226.98 160.0,227.30 160.7,227.63 161.3,227.97 162.0,228.32 162.6,228.69 163.3,229.06 163.9,229.45 164.6,229.85 165.2,230.26 165.9,230.67 166.6,231.10 167.2,231.53 167.9,231.97 168.5,232.42 169.2,232.88 169.8,233.34 170.5,233.80 171.1,234.27 171.8,234.74 172.4,235.22 173.1,235.70 173.7,236.18 174.4,236.66 175.0,237.14 175.7,237.61 176.3,238.09 177.0,238.56 177.6,239.03 178.3,239.50 178.9,239.96 179.6,240.42 180.2,240.86 180.9,241.31 181.5,241.74 182.2,242.16 182.8,242.57 183.5,242.98 184.1,243.37 184.8,243.75 185.4,244.11 186.1,244.47 186.7,244.80 187.4,245.13 188.1,245.43 188.7,245.73 189.4,246.00 190.0,246.26 190.7,246.50 191.3,246.72 192.0,246.92 192.6,247.11 193.3,247.27 193.9,247.42 194.6,247.54 195.2,247.65 195.9,247.73 196.5,247.80 197.2,247.84 197.8,247.86 198.5,247.86 199.1,247.84 199.8,247.80 200.4,247.74 201.1,247.66 201.7,247.56 202.4,247.44 203.0,247.30 203.7,247.13 204.3,246.95 205.0,246.75 205.6,246.53 206.3,246.30 206.9,246.04 207.6,245.77 208.3,245.48 208.9,245.17 209.6,244.85 210.2,244.52 210.9,244.17 211.5,243.80 212.2,243.42 212.8,243.04 213.5,242.63 214.1,242.22 214.8,241.80 215.4,241.37 216.1,240.93 216.7,240.48 217.4,240.03 218.0,239.57 218.7,239.10 219.3,238.63 220.0,238.16 220.6,237.68 221.3,237.21 221.9,236.73 222.6,236.25 223.2,235.77 223.9,235.29 224.5,234.81 225.2,234.34 225.8,233.87 226.5,233.40 227.1,232.94 227.8,232.49 228.4,232.04 229.1,231.60 229.8,231.16 230.4,230.74 231.1,230.32 231.7,229.91 232.4,229.51 233.0,229.12 233.7,228.74 234.3,228.38 235.0,228.02 235.6,227.68 236.3,227.35 236.9,227.03 237.6,226.72 238.2,226.43 238.9,226.15 239.5,225.89 240.2,225.63 240.8,225.40 241.5,225.17 242.1,224.96 242.8,224.77 243.4,224.58 244.1,224.42 244.7,224.26 245.4,224.12 246.0,224.00 246.7,223.89 247.3,223.79 248.0,223.71 248.6,223.63 249.3,223.58 249.9,223.53 250.6,223.50 251.3,223.48 251.9,223.47 252.6,223.48 253.2,223.50 253.9,223.52 254.5,223.56 255.2,223.61 255.8,223.67 256.5,223.74 257.1,223.82 257.8,223.91 258.4,224.01 259.1,224.12 259.7,224.23 260.4,224.35 261.0,224.48 261.7,224.62 262.3,224.76 263.0,224.91 263.6,225.07 264.3,225.23 264.9,225.40 265.6,225.57 266.2,225.74 266.9,225.92 267.5,226.10 268.2,226.29 268.8,226.48 269.5,226.67 270.1,226.86 270.8,227.06 271.5,227.26 272.1,227.45 272.8,227.65 273.4,227.85 274.1,228.05 274.7,228.25 275.4,228.45 276.0,228.65 276.7,228.85 277.3,229.05 278.0,229.24 278.6,229.44 279.3,229.63 279.9,229.82 280.6,230.01 281.2,230.20 281.9,230.39 282.5,230.57 283.2,230.75 283.8,230.93 284.5,231.10 285.1,231.28 285.8,231.45 286.4,231.61 287.1,231.78 287.7,231.94 288.4,232.09 289.0,232.25 289.7,232.40 290.3,232.55 291.0,232.69 291.6,232.83 292.3,232.97 293.0,233.10 293.6,233.23 294.3,233.36 294.9,233.48 295.6,233.60 296.2,233.71 296.9,233.83 297.5,233.94 298.2,234.04 298.8,234.15 299.5,234.25 300.1,234.34 300.8,234.43 301.4,234.53 302.1,234.61 302.7,234.70 303.4,234.78 304.0,234.86 304.7,234.93 305.3,235.00 306.0,235.07 306.6,235.14 307.3,235.20 307.9,235.27 308.6,235.33 309.2,235.38 309.9,235.44 310.5,235.49 311.2,235.54 311.8,235.59 312.5,235.64 313.2,235.68 313.8,235.72 314.5,235.76 315.1,235.80 315.8,235.84 316.4,235.88 317.1,235.91 317.7,235.94 318.4,235.97 319.0,236.00 319.7,236.03 320.3,236.05 321.0,236.08 321.6,236.10 322.3,236.13 322.9,236.15 323.6,236.17 324.2,236.19 324.9,236.21 325.5,236.22 326.2,236.24 326.8,236.26 327.5,236.27 328.1,236.28 328.8,236.30 329.4,236.31 330.1,236.32 330.7,236.33 331.4,236.34 332.0,236.35 332.7,236.36 333.3,236.37 334.0,236.38" fill="none" stroke="#008000" stroke-width="1.3" stroke-linejoin="round"/>
<path d="M61.0,282.50 L61.0,282.62 61.7,282.63 62.3,282.64 63.0,282.65 63.6,282.66 64.3,282.67 64.9,282.67 65.6,282.68 66.2,282.69 66.9,282.71 67.5,282.72 68.2,282.73 68.8,282.74 69.5,282.76 70.1,282.77 70.8,282.78 71.4,282.80 72.1,282.81 72.7,282.83 73.4,282.85 74.0,282.87 74.7,282.89 75.3,282.91 76.0,282.93 76.6,282.95 77.3,282.97 77.9,282.99 78.6,283.02 79.2,283.04 79.9,283.07 80.5,283.10 81.2,283.13 81.8,283.16 82.5,283.19 83.2,283.22 83.8,283.26 84.5,283.29 85.1,283.33 85.8,283.37 86.4,283.41 87.1,283.45 87.7,283.49 88.4,283.54 89.0,283.58 89.7,283.63 90.3,283.68 91.0,283.73 91.6,283.78 92.3,283.84 92.9,283.90 93.6,283.95 94.2,284.01 94.9,284.08 95.5,284.14 96.2,284.21 96.8,284.28 97.5,284.35 98.1,284.42 98.8,284.50 99.4,284.57 100.1,284.65 100.7,284.74 101.4,284.82 102.0,284.91 102.7,285.00 103.4,285.09 104.0,285.18 104.7,285.28 105.3,285.38 106.0,285.48 106.6,285.58 107.3,285.69 107.9,285.80 108.6,285.91 109.2,286.03 109.9,286.14 110.5,286.26 111.2,286.39 111.8,286.51 112.5,286.64 113.1,286.77 113.8,286.90 114.4,287.04 115.1,287.17 115.7,287.31 116.4,287.46 117.0,287.60 117.7,287.75 118.3,287.90 119.0,288.05 119.6,288.20 120.3,288.36 120.9,288.52 121.6,288.68 122.2,288.84 122.9,289.00 123.5,289.17 124.2,289.33 124.9,289.50 125.5,289.67 126.2,289.84 126.8,290.02 127.5,290.19 128.1,290.37 128.8,290.54 129.4,290.72 130.1,290.90 130.7,291.07 131.4,291.25 132.0,291.43 132.7,291.61 133.3,291.79 134.0,291.97 134.6,292.15 135.3,292.32 135.9,292.50 136.6,292.68 137.2,292.85 137.9,293.02 138.5,293.20 139.2,293.37 139.8,293.54 140.5,293.70 141.1,293.87 141.8,294.03 142.4,294.19 143.1,294.34 143.7,294.49 144.4,294.64 145.1,294.79 145.7,294.93 146.4,295.07 147.0,295.20 147.7,295.33 148.3,295.46 149.0,295.58 149.6,295.69 150.3,295.80 150.9,295.91 151.6,296.01 152.2,296.10 152.9,296.19 153.5,296.27 154.2,296.34 154.8,296.41 155.5,296.47 156.1,296.52 156.8,296.56 157.4,296.60 158.1,296.63 158.7,296.65 159.4,296.67 160.0,296.67 160.7,296.67 161.3,296.66 162.0,296.64 162.6,296.61 163.3,296.58 163.9,296.53 164.6,296.48 165.2,296.41 165.9,296.34 166.6,296.26 167.2,296.17 167.9,296.07 168.5,295.96 169.2,295.84 169.8,295.71 170.5,295.57 171.1,295.42 171.8,295.26 172.4,295.10 173.1,294.92 173.7,294.73 174.4,294.54 175.0,294.33 175.7,294.12 176.3,293.90 177.0,293.67 177.6,293.43 178.3,293.18 178.9,292.92 179.6,292.65 180.2,292.38 180.9,292.10 181.5,291.81 182.2,291.51 182.8,291.21 183.5,290.89 184.1,290.57 184.8,290.25 185.4,289.91 186.1,289.57 186.7,289.23 187.4,288.88 188.1,288.52 188.7,288.16 189.4,287.79 190.0,287.42 190.7,287.05 191.3,286.67 192.0,286.29 192.6,285.90 193.3,285.51 193.9,285.12 194.6,284.72 195.2,284.33 195.9,283.93 196.5,283.53 197.2,283.13 197.8,282.73 198.5,282.33 199.1,281.93 199.8,281.53 200.4,281.13 201.1,280.73 201.7,280.34 202.4,279.94 203.0,279.55 203.7,279.16 204.3,278.77 205.0,278.39 205.6,278.01 206.3,277.63 206.9,277.26 207.6,276.89 208.3,276.53 208.9,276.17 209.6,275.82 210.2,275.48 210.9,275.14 211.5,274.80 212.2,274.48 212.8,274.15 213.5,273.84 214.1,273.53 214.8,273.24 215.4,272.94 216.1,272.66 216.7,272.39 217.4,272.12 218.0,271.86 218.7,271.61 219.3,271.37 220.0,271.13 220.6,270.91 221.3,270.70 221.9,270.49 222.6,270.29 223.2,270.11 223.9,269.93 224.5,269.76 225.2,269.60 225.8,269.45 226.5,269.31 227.1,269.18 227.8,269.06 228.4,268.95 229.1,268.85 229.8,268.75 230.4,268.67 231.1,268.60 231.7,268.53 232.4,268.48 233.0,268.43 233.7,268.39 234.3,268.36 235.0,268.34 235.6,268.33 236.3,268.33 236.9,268.33 237.6,268.34 238.2,268.37 238.9,268.39 239.5,268.43 240.2,268.48 240.8,268.53 241.5,268.59 242.1,268.65 242.8,268.72 243.4,268.80 244.1,268.89 244.7,268.98 245.4,269.08 246.0,269.18 246.7,269.29 247.3,269.40 248.0,269.52 248.6,269.65 249.3,269.78 249.9,269.91 250.6,270.05 251.3,270.19 251.9,270.33 252.6,270.48 253.2,270.64 253.9,270.79 254.5,270.95 255.2,271.11 255.8,271.27 256.5,271.44 257.1,271.61 257.8,271.78 258.4,271.95 259.1,272.12 259.7,272.30 260.4,272.47 261.0,272.65 261.7,272.83 262.3,273.01 263.0,273.18 263.6,273.36 264.3,273.54 264.9,273.72 265.6,273.90 266.2,274.08 266.9,274.25 267.5,274.43 268.2,274.61 268.8,274.78 269.5,274.96 270.1,275.13 270.8,275.30 271.5,275.47 272.1,275.64 272.8,275.81 273.4,275.97 274.1,276.14 274.7,276.30 275.4,276.46 276.0,276.62 276.7,276.78 277.3,276.93 278.0,277.08 278.6,277.23 279.3,277.38 279.9,277.52 280.6,277.67 281.2,277.81 281.9,277.94 282.5,278.08 283.2,278.21 283.8,278.34 284.5,278.47 285.1,278.60 285.8,278.72 286.4,278.84 287.1,278.96 287.7,279.07 288.4,279.18 289.0,279.29 289.7,279.40 290.3,279.50 291.0,279.61 291.6,279.71 292.3,279.80 293.0,279.90 293.6,279.99 294.3,280.08 294.9,280.17 295.6,280.25 296.2,280.33 296.9,280.41 297.5,280.49 298.2,280.57 298.8,280.64 299.5,280.71 300.1,280.78 300.8,280.85 301.4,280.91 302.1,280.98 302.7,281.04 303.4,281.10 304.0,281.15 304.7,281.21 305.3,281.26 306.0,281.31 306.6,281.36 307.3,281.41 307.9,281.46 308.6,281.50 309.2,281.54 309.9,281.59 310.5,281.63 311.2,281.66 311.8,281.70 312.5,281.74 313.2,281.77 313.8,281.80 314.5,281.84 315.1,281.87 315.8,281.90 316.4,281.92 317.1,281.95 317.7,281.98 318.4,282.00 319.0,282.03 319.7,282.05 320.3,282.07 321.0,282.09 321.6,282.11 322.3,282.13 322.9,282.15 323.6,282.17 324.2,282.18 324.9,282.20 325.5,282.21 326.2,282.23 326.8,282.24 327.5,282.26 328.1,282.27 328.8,282.28 329.4,282.29 330.1,282.30 330.7,282.31 331.4,282.32 332.0,282.33 332.7,282.34 333.3,282.35 334.0,282.36 L334.0,282.50 Z" fill="#ffd700"/>
<polyline points="61.0,282.62 61.7,282.63 62.3,282.64 63.0,282.65 63.6,282.66 64.3,282.67 64.9,282.67 65.6,282.68 66.2,282.69 66.9,282.71 67.5,282.72 68.2,282.73 68.8,282.74 69.5,282.76 70.1,282.77 70.8,282.78 71.4,282.80 72.1,282.81 72.7,282.83 73.4,282.85 74.0,282.87 74.7,282.89 75.3,282.91 76.0,282.93 76.6,282.95 77.3,282.97 77.9,282.99 78.6,283.02 79.2,283.04 79.9,283.07 80.5,283.10 81.2,283.13 81.8,283.16 82.5,283.19 83.2,283.22 83.8,283.26 84.5,283.29 85.1,283.33 85.8,283.37 86.4,283.41 87.1,283.45 87.7,283.49 88.4,283.54 89.0,283.58 89.7,283.63 90.3,283.68 91.0,283.73 91.6,283.78 92.3,283.84 92.9,283.90 93.6,283.95 94.2,284.01 94.9,284.08 95.5,284.14 96.2,284.21 96.8,284.28 97.5,284.35 98.1,284.42 98.8,284.50 99.4,284.57 100.1,284.65 100.7,284.74 101.4,284.82 102.0,284.91 102.7,285.00 103.4,285.09 104.0,285.18 104.7,285.28 105.3,285.38 106.0,285.48 106.6,285.58 107.3,285.69 107.9,285.80 108.6,285.91 109.2,286.03 109.9,286.14 110.5,286.26 111.2,286.39 111.8,286.51 112.5,286.64 113.1,286.77 113.8,286.90 114.4,287.04 115.1,287.17 115.7,287.31 116.4,287.46 117.0,287.60 117.7,287.75 118.3,287.90 119.0,288.05 119.6,288.20 120.3,288.36 120.9,288.52 121.6,288.68 122.2,288.84 122.9,289.00 123.5,289.17 124.2,289.33 124.9,289.50 125.5,289.67 126.2,289.84 126.8,290.02 127.5,290.19 128.1,290.37 128.8,290.54 129.4,290.72 130.1,290.90 130.7,291.07 131.4,291.25 132.0,291.43 132.7,291.61 133.3,291.79 134.0,291.97 134.6,292.15 135.3,292.32 135.9,292.50 136.6,292.68 137.2,292.85 137.9,293.02 138.5,293.20 139.2,293.37 139.8,293.54 140.5,293.70 141.1,293.87 141.8,294.03 142.4,294.19 143.1,294.34 143.7,294.49 144.4,294.64 145.1,294.79 145.7,294.93 146.4,295.07 147.0,295.20 147.7,295.33 148.3,295.46 149.0,295.58 149.6,295.69 150.3,295.80 150.9,295.91 151.6,296.01 152.2,296.10 152.9,296.19 153.5,296.27 154.2,296.34 154.8,296.41 155.5,296.47 156.1,296.52 156.8,296.56 157.4,296.60 158.1,296.63 158.7,296.65 159.4,296.67 160.0,296.67 160.7,296.67 161.3,296.66 162.0,296.64 162.6,296.61 163.3,296.58 163.9,296.53 164.6,296.48 165.2,296.41 165.9,296.34 166.6,296.26 167.2,296.17 167.9,296.07 168.5,295.96 169.2,295.84 169.8,295.71 170.5,295.57 171.1,295.42 171.8,295.26 172.4,295.10 173.1,294.92 173.7,294.73 174.4,294.54 175.0,294.33 175.7,294.12 176.3,293.90 177.0,293.67 177.6,293.43 178.3,293.18 178.9,292.92 179.6,292.65 180.2,292.38 180.9,292.10 181.5,291.81 182.2,291.51 182.8,291.21 183.5,290.89 184.1,290.57 184.8,290.25 185.4,289.91 186.1,289.57 186.7,289.23 187.4,288.88 188.1,288.52 188.7,288.16 189.4,287.79 190.0,287.42 190.7,287.05 191.3,286.67 192.0,286.29 192.6,285.90 193.3,285.51 193.9,285.12 194.6,284.72 195.2,284.33 195.9,283.93 196.5,283.53 197.2,283.13 197.8,282.73 198.5,282.33 199.1,281.93 199.8,281.53 200.4,281.13 201.1,280.73 201.7,280.34 202.4,279.94 203.0,279.55 203.7,279.16 204.3,278.77 205.0,278.39 205.6,278.01 206.3,277.63 206.9,277.26 207.6,276.89 208.3,276.53 208.9,276.17 209.6,275.82 210.2,275.48 210.9,275.14 211.5,274.80 212.2,274.48 212.8,274.15 213.5,273.84 214.1,273.53 214.8,273.24 215.4,272.94 216.1,272.66 216.7,272.39 217.4,272.12 218.0,271.86 218.7,271.61 219.3,271.37 220.0,271.13 220.6,270.91 221.3,270.70 221.9,270.49 222.6,270.29 223.2,270.11 223.9,269.93 224.5,269.76 225.2,269.60 225.8,269.45 226.5,269.31 227.1,269.18 227.8,269.06 228.4,268.95 229.1,268.85 229.8,268.75 230.4,268.67 231.1,268.60 231.7,268.53 232.4,268.48 233.0,268.43 233.7,268.39 234.3,268.36 235.0,268.34 235.6,268.33 236.3,268.33 236.9,268.33 237.6,268.34 238.2,268.37 238.9,268.39 239.5,268.43 240.2,268.48 240.8,268.53 241.5,268.59 242.1,268.65 242.8,268.72 243.4,268.80 244.1,268.89 244.7,268.98 245.4,269.08 246.0,269.18 246.7,269.29 247.3,269.40 248.0,269.52 248.6,269.65 249.3,269.78 249.9,269.91 250.6,270.05 251.3,270.19 251.9,270.33 252.6,270.48 253.2,270.64 253.9,270.79 254.5,270.95 255.2,271.11 255.8,271.27 256.5,271.44 257.1,271.61 257.8,271.78 258.4,271.95 259.1,272.12 259.7,272.30 260.4,272.47 261.0,272.65 261.7,272.83 262.3,273.01 263.0,273.18 263.6,273.36 264.3,273.54 264.9,273.72 265.6,273.90 266.2,274.08 266.9,274.25 267.5,274.43 268.2,274.61 268.8,274.78 269.5,274.96 270.1,275.13 270.8,275.30 271.5,275.47 272.1,275.64 272.8,275.81 273.4,275.97 274.1,276.14 274.7,276.30 275.4,276.46 276.0,276.62 276.7,276.78 277.3,276.93 278.0,277.08 278.6,277.23 279.3,277.38 279.9,277.52 280.6,277.67 281.2,277.81 281.9,277.94 282.5,278.08 283.2,278.21 283.8,278.34 284.5,278.47 285.1,278.60 285.8,278.72 286.4,278.84 287.1,278.96 287.7,279.07 288.4,279.18 289.0,279.29 289.7,279.40 290.3,279.50 291.0,279.61 291.6,279.71 292.3,279.80 293.0,279.90 293.6,279.99 294.3,280.08 294.9,280.17 295.6,280.25 296.2,280.33 296.9,280.41 297.5,280.49 298.2,280.57 298.8,280.64 299.5,280.71 300.1,280.78 300.8,280.85 301.4,280.91 302.1,280.98 302.7,281.04 303.4,281.10 304.0,281.15 304.7,281.21 305.3,281.26 306.0,281.31 306.6,281.36 307.3,281.41 307.9,281.46 308.6,281.50 309.2,281.54 309.9,281.59 310.5,281.63 311.2,281.66 311.8,281.70 312.5,281.74 313.2,281.77 313.8,281.80 314.5,281.84 315.1,281.87 315.8,281.90 316.4,281.92 317.1,281.95 317.7,281.98 318.4,282.00 319.0,282.03 319.7,282.05 320.3,282.07 321.0,282.09 321.6,282.11 322.3,282.13 322.9,282.15 323.6,282.17 324.2,282.18 324.9,282.20 325.5,282.21 326.2,282.23 326.8,282.24 327.5,282.26 328.1,282.27 328.8,282.28 329.4,282.29 330.1,282.30 330.7,282.31 331.4,282.32 332.0,282.33 332.7,282.34 333.3,282.35 334.0,282.36" fill="none" stroke="#ffa500" stroke-width="1.3" stroke-linejoin="round"/>
<path d="M61.0,328.50 L61.0,328.39 61.7,328.38 62.3,328.38 63.0,328.37 63.6,328.36 64.3,328.36 64.9,328.35 65.6,328.34 66.2,328.33 66.9,328.32 67.5,328.32 68.2,328.31 68.8,328.30 69.5,328.29 70.1,328.28 70.8,328.27 71.4,328.26 72.1,328.24 72.7,328.23 73.4,328.22 74.0,328.21 74.7,328.19 75.3,328.18 76.0,328.16 76.6,328.15 77.3,328.13 77.9,328.11 78.6,328.10 79.2,328.08 79.9,328.06 80.5,328.04 81.2,328.02 81.8,328.00 82.5,327.98 83.2,327.95 83.8,327.93 84.5,327.91 85.1,327.88 85.8,327.85 86.4,327.83 87.1,327.80 87.7,327.77 88.4,327.74 89.0,327.71 89.7,327.67 90.3,327.64 91.0,327.61 91.6,327.57 92.3,327.53 92.9,327.49 93.6,327.45 94.2,327.41 94.9,327.37 95.5,327.33 96.2,327.28 96.8,327.23 97.5,327.19 98.1,327.14 98.8,327.09 99.4,327.03 100.1,326.98 100.7,326.92 101.4,326.87 102.0,326.81 102.7,326.74 103.4,326.68 104.0,326.62 104.7,326.55 105.3,326.48 106.0,326.41 106.6,326.34 107.3,326.27 107.9,326.19 108.6,326.11 109.2,326.03 109.9,325.95 110.5,325.87 111.2,325.78 111.8,325.69 112.5,325.60 113.1,325.51 113.8,325.41 114.4,325.31 115.1,325.21 115.7,325.11 116.4,325.01 117.0,324.90 117.7,324.79 118.3,324.68 119.0,324.57 119.6,324.45 120.3,324.33 120.9,324.21 121.6,324.09 122.2,323.96 122.9,323.83 123.5,323.70 124.2,323.57 124.9,323.43 125.5,323.29 126.2,323.15 126.8,323.01 127.5,322.86 128.1,322.71 128.8,322.56 129.4,322.41 130.1,322.25 130.7,322.10 131.4,321.93 132.0,321.77 132.7,321.61 133.3,321.44 134.0,321.27 134.6,321.09 135.3,320.92 135.9,320.74 136.6,320.56 137.2,320.38 137.9,320.20 138.5,320.01 139.2,319.82 139.8,319.63 140.5,319.44 141.1,319.25 141.8,319.05 142.4,318.85 143.1,318.65 143.7,318.45 144.4,318.25 145.1,318.04 145.7,317.84 146.4,317.63 147.0,317.42 147.7,317.21 148.3,317.00 149.0,316.79 149.6,316.58 150.3,316.36 150.9,316.15 151.6,315.93 152.2,315.71 152.9,315.49 153.5,315.28 154.2,315.06 154.8,314.84 155.5,314.62 156.1,314.40 156.8,314.18 157.4,313.96 158.1,313.74 158.7,313.53 159.4,313.31 160.0,313.09 160.7,312.87 161.3,312.66 162.0,312.44 162.6,312.23 163.3,312.02 163.9,311.80 164.6,311.59 165.2,311.38 165.9,311.18 166.6,310.97 167.2,310.77 167.9,310.56 168.5,310.36 169.2,310.17 169.8,309.97 170.5,309.78 171.1,309.59 171.8,309.40 172.4,309.21 173.1,309.03 173.7,308.85 174.4,308.68 175.0,308.50 175.7,308.33 176.3,308.17 177.0,308.01 177.6,307.85 178.3,307.69 178.9,307.54 179.6,307.39 180.2,307.25 180.9,307.11 181.5,306.98 182.2,306.85 182.8,306.72 183.5,306.60 184.1,306.48 184.8,306.37 185.4,306.26 186.1,306.16 186.7,306.06 187.4,305.97 188.1,305.88 188.7,305.80 189.4,305.73 190.0,305.65 190.7,305.59 191.3,305.53 192.0,305.47 192.6,305.42 193.3,305.38 193.9,305.34 194.6,305.30 195.2,305.27 195.9,305.25 196.5,305.23 197.2,305.22 197.8,305.22 198.5,305.22 199.1,305.22 199.8,305.23 200.4,305.25 201.1,305.27 201.7,305.30 202.4,305.33 203.0,305.37 203.7,305.41 204.3,305.46 205.0,305.52 205.6,305.58 206.3,305.64 206.9,305.71 207.6,305.79 208.3,305.87 208.9,305.96 209.6,306.05 210.2,306.15 210.9,306.25 211.5,306.36 212.2,306.47 212.8,306.58 213.5,306.70 214.1,306.83 214.8,306.96 215.4,307.09 216.1,307.23 216.7,307.37 217.4,307.52 218.0,307.67 218.7,307.82 219.3,307.98 220.0,308.14 220.6,308.31 221.3,308.48 221.9,308.65 222.6,308.83 223.2,309.01 223.9,309.19 224.5,309.37 225.2,309.56 225.8,309.75 226.5,309.94 227.1,310.14 227.8,310.33 228.4,310.53 229.1,310.74 229.8,310.94 230.4,311.15 231.1,311.35 231.7,311.56 232.4,311.77 233.0,311.98 233.7,312.20 234.3,312.41 235.0,312.63 235.6,312.84 236.3,313.06 236.9,313.28 237.6,313.49 238.2,313.71 238.9,313.93 239.5,314.15 240.2,314.37 240.8,314.59 241.5,314.81 242.1,315.03 242.8,315.24 243.4,315.46 244.1,315.68 244.7,315.90 245.4,316.11 246.0,316.33 246.7,316.54 247.3,316.76 248.0,316.97 248.6,317.18 249.3,317.39 249.9,317.60 250.6,317.81 251.3,318.01 251.9,318.22 252.6,318.42 253.2,318.62 253.9,318.82 254.5,319.02 255.2,319.22 255.8,319.41 256.5,319.60 257.1,319.79 257.8,319.98 258.4,320.17 259.1,320.35 259.7,320.54 260.4,320.72 261.0,320.89 261.7,321.07 262.3,321.24 263.0,321.41 263.6,321.58 264.3,321.75 264.9,321.91 265.6,322.07 266.2,322.23 266.9,322.39 267.5,322.54 268.2,322.69 268.8,322.84 269.5,322.99 270.1,323.13 270.8,323.27 271.5,323.41 272.1,323.55 272.8,323.68 273.4,323.81 274.1,323.94 274.7,324.07 275.4,324.19 276.0,324.31 276.7,324.43 277.3,324.55 278.0,324.66 278.6,324.78 279.3,324.89 279.9,324.99 280.6,325.10 281.2,325.20 281.9,325.30 282.5,325.40 283.2,325.49 283.8,325.59 284.5,325.68 285.1,325.77 285.8,325.85 286.4,325.94 287.1,326.02 287.7,326.10 288.4,326.18 289.0,326.26 289.7,326.33 290.3,326.40 291.0,326.47 291.6,326.54 292.3,326.61 293.0,326.67 293.6,326.74 294.3,326.80 294.9,326.86 295.6,326.91 296.2,326.97 296.9,327.02 297.5,327.08 298.2,327.13 298.8,327.18 299.5,327.23 300.1,327.27 300.8,327.32 301.4,327.36 302.1,327.41 302.7,327.45 303.4,327.49 304.0,327.53 304.7,327.56 305.3,327.60 306.0,327.64 306.6,327.67 307.3,327.70 307.9,327.73 308.6,327.76 309.2,327.79 309.9,327.82 310.5,327.85 311.2,327.88 311.8,327.90 312.5,327.93 313.2,327.95 313.8,327.97 314.5,327.99 315.1,328.02 315.8,328.04 316.4,328.06 317.1,328.08 317.7,328.09 318.4,328.11 319.0,328.13 319.7,328.14 320.3,328.16 321.0,328.18 321.6,328.19 322.3,328.20 322.9,328.22 323.6,328.23 324.2,328.24 324.9,328.25 325.5,328.26 326.2,328.28 326.8,328.29 327.5,328.30 328.1,328.31 328.8,328.31 329.4,328.32 330.1,328.33 330.7,328.34 331.4,328.35 332.0,328.35 332.7,328.36 333.3,328.37 334.0,328.37 L334.0,328.50 Z" fill="#ff6347"/>
<polyline points="61.0,328.39 61.7,328.38 62.3,328.38 63.0,328.37 63.6,328.36 64.3,328.36 64.9,328.35 65.6,328.34 66.2,328.33 66.9,328.32 67.5,328.32 68.2,328.31 68.8,328.30 69.5,328.29 70.1,328.28 70.8,328.27 71.4,328.26 72.1,328.24 72.7,328.23 73.4,328.22 74.0,328.21 74.7,328.19 75.3,328.18 76.0,328.16 76.6,328.15 77.3,328.13 77.9,328.11 78.6,328.10 79.2,328.08 79.9,328.06 80.5,328.04 81.2,328.02 81.8,328.00 82.5,327.98 83.2,327.95 83.8,327.93 84.5,327.91 85.1,327.88 85.8,327.85 86.4,327.83 87.1,327.80 87.7,327.77 88.4,327.74 89.0,327.71 89.7,327.67 90.3,327.64 91.0,327.61 91.6,327.57 92.3,327.53 92.9,327.49 93.6,327.45 94.2,327.41 94.9,327.37 95.5,327.33 96.2,327.28 96.8,327.23 97.5,327.19 98.1,327.14 98.8,327.09 99.4,327.03 100.1,326.98 100.7,326.92 101.4,326.87 102.0,326.81 102.7,326.74 103.4,326.68 104.0,326.62 104.7,326.55 105.3,326.48 106.0,326.41 106.6,326.34 107.3,326.27 107.9,326.19 108.6,326.11 109.2,326.03 109.9,325.95 110.5,325.87 111.2,325.78 111.8,325.69 112.5,325.60 113.1,325.51 113.8,325.41 114.4,325.31 115.1,325.21 115.7,325.11 116.4,325.01 117.0,324.90 117.7,324.79 118.3,324.68 119.0,324.57 119.6,324.45 120.3,324.33 120.9,324.21 121.6,324.09 122.2,323.96 122.9,323.83 123.5,323.70 124.2,323.57 124.9,323.43 125.5,323.29 126.2,323.15 126.8,323.01 127.5,322.86 128.1,322.71 128.8,322.56 129.4,322.41 130.1,322.25 130.7,322.10 131.4,321.93 132.0,321.77 132.7,321.61 133.3,321.44 134.0,321.27 134.6,321.09 135.3,320.92 135.9,320.74 136.6,320.56 137.2,320.38 137.9,320.20 138.5,320.01 139.2,319.82 139.8,319.63 140.5,319.44 141.1,319.25 141.8,319.05 142.4,318.85 143.1,318.65 143.7,318.45 144.4,318.25 145.1,318.04 145.7,317.84 146.4,317.63 147.0,317.42 147.7,317.21 148.3,317.00 149.0,316.79 149.6,316.58 150.3,316.36 150.9,316.15 151.6,315.93 152.2,315.71 152.9,315.49 153.5,315.28 154.2,315.06 154.8,314.84 155.5,314.62 156.1,314.40 156.8,314.18 157.4,313.96 158.1,313.74 158.7,313.53 159.4,313.31 160.0,313.09 160.7,312.87 161.3,312.66 162.0,312.44 162.6,312.23 163.3,312.02 163.9,311.80 164.6,311.59 165.2,311.38 165.9,311.18 166.6,310.97 167.2,310.77 167.9,310.56 168.5,310.36 169.2,310.17 169.8,309.97 170.5,309.78 171.1,309.59 171.8,309.40 172.4,309.21 173.1,309.03 173.7,308.85 174.4,308.68 175.0,308.50 175.7,308.33 176.3,308.17 177.0,308.01 177.6,307.85 178.3,307.69 178.9,307.54 179.6,307.39 180.2,307.25 180.9,307.11 181.5,306.98 182.2,306.85 182.8,306.72 183.5,306.60 184.1,306.48 184.8,306.37 185.4,306.26 186.1,306.16 186.7,306.06 187.4,305.97 188.1,305.88 188.7,305.80 189.4,305.73 190.0,305.65 190.7,305.59 191.3,305.53 192.0,305.47 192.6,305.42 193.3,305.38 193.9,305.34 194.6,305.30 195.2,305.27 195.9,305.25 196.5,305.23 197.2,305.22 197.8,305.22 198.5,305.22 199.1,305.22 199.8,305.23 200.4,305.25 201.1,305.27 201.7,305.30 202.4,305.33 203.0,305.37 203.7,305.41 204.3,305.46 205.0,305.52 205.6,305.58 206.3,305.64 206.9,305.71 207.6,305.79 208.3,305.87 208.9,305.96 209.6,306.05 210.2,306.15 210.9,306.25 211.5,306.36 212.2,306.47 212.8,306.58 213.5,306.70 214.1,306.83 214.8,306.96 215.4,307.09 216.1,307.23 216.7,307.37 217.4,307.52 218.0,307.67 218.7,307.82 219.3,307.98 220.0,308.14 220.6,308.31 221.3,308.48 221.9,308.65 222.6,308.83 223.2,309.01 223.9,309.19 224.5,309.37 225.2,309.56 225.8,309.75 226.5,309.94 227.1,310.14 227.8,310.33 228.4,310.53 229.1,310.74 229.8,310.94 230.4,311.15 231.1,311.35 231.7,311.56 232.4,311.77 233.0,311.98 233.7,312.20 234.3,312.41 235.0,312.63 235.6,312.84 236.3,313.06 236.9,313.28 237.6,313.49 238.2,313.71 238.9,313.93 239.5,314.15 240.2,314.37 240.8,314.59 241.5,314.81 242.1,315.03 242.8,315.24 243.4,315.46 244.1,315.68 244.7,315.90 245.4,316.11 246.0,316.33 246.7,316.54 247.3,316.76 248.0,316.97 248.6,317.18 249.3,317.39 249.9,317.60 250.6,317.81 251.3,318.01 251.9,318.22 252.6,318.42 253.2,318.62 253.9,318.82 254.5,319.02 255.2,319.22 255.8,319.41 256.5,319.60 257.1,319.79 257.8,319.98 258.4,320.17 259.1,320.35 259.7,320.54 260.4,320.72 261.0,320.89 261.7,321.07 262.3,321.24 263.0,321.41 263.6,321.58 264.3,321.75 264.9,321.91 265.6,322.07 266.2,322.23 266.9,322.39 267.5,322.54 268.2,322.69 268.8,322.84 269.5,322.99 270.1,323.13 270.8,323.27 271.5,323.41 272.1,323.55 272.8,323.68 273.4,323.81 274.1,323.94 274.7,324.07 275.4,324.19 276.0,324.31 276.7,324.43 277.3,324.55 278.0,324.66 278.6,324.78 279.3,324.89 279.9,324.99 280.6,325.10 281.2,325.20 281.9,325.30 282.5,325.40 283.2,325.49 283.8,325.59 284.5,325.68 285.1,325.77 285.8,325.85 286.4,325.94 287.1,326.02 287.7,326.10 288.4,326.18 289.0,326.26 289.7,326.33 290.3,326.40 291.0,326.47 291.6,326.54 292.3,326.61 293.0,326.67 293.6,326.74 294.3,326.80 294.9,326.86 295.6,326.91 296.2,326.97 296.9,327.02 297.5,327.08 298.2,327.13 298.8,327.18 299.5,327.23 300.1,327.27 300.8,327.32 301.4,327.36 302.1,327.41 302.7,327.45 303.4,327.49 304.0,327.53 304.7,327.56 305.3,327.60 306.0,327.64 306.6,327.67 307.3,327.70 307.9,327.73 308.6,327.76 309.2,327.79 309.9,327.82 310.5,327.85 311.2,327.88 311.8,327.90 312.5,327.93 313.2,327.95 313.8,327.97 314.5,327.99 315.1,328.02 315.8,328.04 316.4,328.06 317.1,328.08 317.7,328.09 318.4,328.11 319.0,328.13 319.7,328.14 320.3,328.16 321.0,328.18 321.6,328.19 322.3,328.20 322.9,328.22 323.6,328.23 324.2,328.24 324.9,328.25 325.5,328.26 326.2,328.28 326.8,328.29 327.5,328.30 328.1,328.31 328.8,328.31 329.4,328.32 330.1,328.33 330.7,328.34 331.4,328.35 332.0,328.35 332.7,328.36 333.3,328.37 334.0,328.37" fill="none" stroke="#ff0000" stroke-width="1.3" stroke-linejoin="round"/>
<polyline points="77.8,52.16 79.3,60.24 80.8,68.22 82.3,76.10 83.8,83.87 85.4,91.54 86.9,99.11 88.4,106.58 89.9,113.94 91.4,121.21 92.9,128.37 94.4,135.42 96.0,142.38 97.5,149.23 99.0,155.98 100.5,162.63 102.0,169.18 103.5,175.62 105.1,181.96 106.6,188.20 108.1,194.34 109.6,200.38 111.1,206.31 112.6,212.14 114.2,217.87 115.7,223.49 117.2,229.02 118.7,234.44 120.2,239.76 121.7,244.97 123.3,250.09 124.8,255.10 126.3,260.01 127.8,264.82 129.3,269.52 130.8,274.12 132.3,278.62 133.9,283.02 135.4,287.32 136.9,291.51 138.4,295.60 139.9,299.59 141.4,303.48 143.0,307.26 144.5,310.95 146.0,314.53 147.5,318.00 149.0,321.38 150.5,324.65 152.1,327.82 153.6,330.89 155.1,333.86 156.6,336.72 158.1,339.48 159.6,342.14 161.2,344.70 162.7,347.16 164.2,349.51 165.7,351.76 167.2,353.91 168.7,355.95 170.3,357.90 171.8,359.74 173.3,361.48 174.8,363.11 176.3,364.65 177.8,366.08 179.3,367.41 180.9,368.64 182.4,369.76 183.9,370.78 185.4,371.70 186.9,372.52 188.4,373.24 190.0,373.85 191.5,374.36 193.0,374.77 194.5,375.08 196.0,375.28 197.5,375.39 199.1,375.39 200.6,375.28 202.1,375.08 203.6,374.77 205.1,374.36 206.6,373.85 208.2,373.24 209.7,372.52 211.2,371.70 212.7,370.78 214.2,369.76 215.7,368.64 217.3,367.41 218.8,366.08 220.3,364.65 221.8,363.11 223.3,361.48 224.8,359.74 226.3,357.90 227.9,355.95 229.4,353.91 230.9,351.76 232.4,349.51 233.9,347.16 235.4,344.70 237.0,342.14 238.5,339.48 240.0,336.72 241.5,333.86 243.0,330.89 244.5,327.82 246.1,324.65 247.6,321.38 249.1,318.00 250.6,314.53 252.1,310.95 253.6,307.26 255.2,303.48 256.7,299.59 258.2,295.60 259.7,291.51 261.2,287.32 262.7,283.02 264.3,278.62 265.8,274.12 267.3,269.52 268.8,264.82 270.3,260.01 271.8,255.10 273.3,250.09 274.9,244.97 276.4,239.76 277.9,234.44 279.4,229.02 280.9,223.49 282.4,217.87 284.0,212.14 285.5,206.31 287.0,200.38 288.5,194.34 290.0,188.20 291.5,181.96 293.1,175.62 294.6,169.18 296.1,162.63 297.6,155.98 299.1,149.23 300.6,142.38 302.2,135.42 303.7,128.37 305.2,121.21 306.7,113.94 308.2,106.58 309.7,99.11 311.2,91.54 312.8,83.87 314.3,76.10 315.8,68.22 317.3,60.24 318.8,52.16" fill="none" stroke="#000" stroke-width="1.25"/>
<rect x="181.95" y="94.80" width="4.4" height="4.4" fill="#000"/>
<rect x="181.95" y="109.20" width="4.4" height="4.4" fill="#000"/>
<rect x="181.95" y="123.50" width="4.4" height="4.4" fill="#000"/>
<path d="M340.28 133.40V155.50" stroke="#000" stroke-width="2.0" fill="none"/><path d="M359.58 133.65L363.98 144.50L359.58 155.35" stroke="#000" stroke-width="1.75" fill="none" stroke-miterlimit="10"/><text transform="translate(344.08 151.75) scale(1.027 1)" font-family="'Liberation Serif', serif" font-size="25.14">4</text>
<path d="M340.28 179.90V202.00" stroke="#000" stroke-width="2.0" fill="none"/><path d="M359.58 180.15L363.98 191.00L359.58 201.85" stroke="#000" stroke-width="1.75" fill="none" stroke-miterlimit="10"/><text transform="translate(344.67 198.25) scale(0.918 1)" font-family="'Liberation Serif', serif" font-size="25.30">3</text>
<path d="M340.28 225.90V248.00" stroke="#000" stroke-width="2.0" fill="none"/><path d="M359.58 226.15L363.98 237.00L359.58 247.85" stroke="#000" stroke-width="1.75" fill="none" stroke-miterlimit="10"/><text transform="translate(344.61 244.25) scale(0.978 1)" font-family="'Liberation Serif', serif" font-size="25.00">2</text>
<path d="M340.28 271.90V294.00" stroke="#000" stroke-width="2.0" fill="none"/><path d="M359.58 272.15L363.98 283.00L359.58 293.85" stroke="#000" stroke-width="1.75" fill="none" stroke-miterlimit="10"/><text transform="translate(344.06 290.25) scale(0.986 1)" font-family="'Liberation Serif', serif" font-size="25.07">1</text>
<path d="M340.28 317.90V340.00" stroke="#000" stroke-width="2.0" fill="none"/><path d="M359.58 318.15L363.98 329.00L359.58 339.85" stroke="#000" stroke-width="1.75" fill="none" stroke-miterlimit="10"/><text transform="translate(344.68 336.25) scale(0.937 1)" font-family="'Liberation Serif', serif" font-size="25.19">0</text>
<path d="M411 140.1H459.1V126.10000000000001L487.4 154.4L459.1 182.70000000000002V168.70000000000002H411Z" fill="url(#gBig)"/>
<path d="M503.43 184.12 L531.06 134.22 L517.27 135.28 L543.80 117.50 L542.82 149.42 L536.39 137.17 L508.77 187.08Z" fill="#000"/>
<g filter="url(#soft)"><circle cx="523.0" cy="157.0" r="17.0" fill="url(#gIon)"/><circle cx="523.0" cy="157.0" r="17.0" fill="url(#gIonH)"/></g>
<text transform="translate(481.35 96.50) scale(1.297 1)" font-family="'Liberation Serif', serif" font-size="16.21">1</text>
<text transform="translate(490.90 96.50) scale(1.299 1)" font-family="'Liberation Serif', serif" font-size="16.34">7</text>
<text transform="translate(501.40 96.50) scale(1.332 1)" font-family="'Liberation Serif', serif" font-size="16.21">1</text>
<text transform="translate(512.17 106.90) scale(0.930 1)" font-family="'Liberation Serif', serif" font-size="25.05" font-style="italic">Y</text>
<text transform="translate(527.88 107.03) scale(0.906 1)" font-family="'Liberation Serif', serif" font-size="27.29" font-style="italic">b</text>
<text transform="translate(541.09 100.62) scale(1.000 1)" font-family="'Liberation Serif', serif" font-size="22.35">+</text>
<path d="M574.7 119.1L590 104.1V111.39999999999999H651V126.8H590V134.1Z" fill="url(#gBlue)"/>
<path d="M574.7 151.5L590 136.5V143.8H651V159.2H590V166.5Z" fill="url(#gPur)"/>
<path d="M574.7 183.5L590 168.5V175.8H651V191.2H590V198.5Z" fill="url(#gRed)"/>
<text transform="translate(660.97 124.68) scale(0.963 1)" font-family="'Liberation Serif', serif" font-size="22.78" font-style="italic">ω</text>
<text transform="translate(677.95 130.73) scale(1.203 1)" font-family="'Liberation Serif', serif" font-size="16.91" font-style="italic">b</text>
<text transform="translate(665.00 154.98) scale(0.939 1)" font-family="'Liberation Serif', serif" font-size="22.36" font-style="italic">ω</text>
<text transform="translate(681.42 160.63) scale(1.056 1)" font-family="'Liberation Serif', serif" font-size="17.88" font-style="italic">c</text>
<text transform="translate(665.00 187.78) scale(0.939 1)" font-family="'Liberation Serif', serif" font-size="22.36" font-style="italic">ω</text>
<text transform="translate(680.63 193.50) scale(1.309 1)" font-family="'Liberation Serif', serif" font-size="18.25" font-style="italic">r</text>
<rect x="486.2" y="235.4" width="76" height="4.4" fill="#000"/>
<rect x="486.2" y="317.5" width="76" height="4.5" fill="#000"/>
<path d="M509.95 241.7L514.6 250.8H511.5V307.1H514.6L509.95 316.1L505.3 307.1H508.4V250.8H505.3Z" fill="#000"/>
<path d="M439.07 222.75V244.85" stroke="#000" stroke-width="2.0" fill="none"/><path d="M456.07 223.00L460.12 233.85L456.07 244.70" stroke="#000" stroke-width="1.75" fill="none" stroke-miterlimit="10"/><path d="M448.37 240.80V224.85M444.07 228.05L448.37 224.25L452.67 228.05" stroke="#000" stroke-width="1.6" fill="none" stroke-miterlimit="10"/>
<path d="M439.07 301.80V323.90" stroke="#000" stroke-width="2.0" fill="none"/><path d="M456.07 302.05L460.12 312.90L456.07 323.75" stroke="#000" stroke-width="1.75" fill="none" stroke-miterlimit="10"/><path d="M448.37 302.50V318.15M444.07 314.95L448.37 318.75L452.67 314.95" stroke="#000" stroke-width="1.6" fill="none" stroke-miterlimit="10"/>
<text transform="translate(539.90 285.08) scale(0.946 1)" font-family="'Liberation Serif', serif" font-size="22.36" font-style="italic">ω</text>
<text transform="translate(556.40 289.67) scale(1.043 1)" font-family="'Liberation Serif', serif" font-size="20.32" font-style="italic">q</text>
<path d="M575.8 275.7H591.1M575.8 281.0H591.1" stroke="#000" stroke-width="1.35" fill="none"/>
<text transform="translate(600.43 285.20) scale(0.931 1)" font-family="'Liberation Serif', serif" font-size="22.87">1</text>
<text transform="translate(611.76 285.20) scale(1.236 1)" font-family="'Liberation Serif', serif" font-size="22.81">2</text>
<text transform="translate(627.11 284.99) scale(0.962 1)" font-family="'Liberation Serif', serif" font-size="22.00">.</text>
<text transform="translate(632.51 285.17) scale(1.096 1)" font-family="'Liberation Serif', serif" font-size="23.07">6</text>
<text transform="translate(645.72 285.29) scale(0.914 1)" font-family="'Liberation Serif', serif" font-size="23.40" font-style="italic">G</text>
<text transform="translate(662.94 285.20) scale(0.971 1)" font-family="'Liberation Serif', serif" font-size="22.91" font-style="italic">H</text>
<text transform="translate(681.01 285.20) scale(0.802 1)" font-family="'Liberation Serif', serif" font-size="22.88" font-style="italic">z</text>
<rect x="87.4" y="453" width="4.5" height="242.3" fill="#000"/>
<path d="M89.65 442.2L95.6 454H83.7Z" fill="#000"/>
<rect x="100.6" y="702.3" width="518.5" height="4.3" fill="#000"/>
<path d="M629.8 704.45L618.2 710.4V698.5Z" fill="#000"/>
<text transform="translate(84.67 427.17) scale(0.968 1)" font-family="'Liberation Serif', serif" font-size="25.64" font-style="italic">y</text>
<text transform="translate(641.53 709.70) scale(1.040 1)" font-family="'Liberation Serif', serif" font-size="26.14" font-style="italic">x</text>
<rect x="241.55" y="524.4" width="418.09999999999997" height="83.5" fill="#d9d9d9" stroke="#a6a6a6" stroke-width="2.9"/>
<path d="M325.3 524.4V607.9" stroke="#a6a6a6" stroke-width="2.75"/>
<path d="M408.92 524.4V607.9" stroke="#a6a6a6" stroke-width="2.75"/>
<path d="M492.55 524.4V607.9" stroke="#a6a6a6" stroke-width="2.75"/>
<path d="M576.17 524.4V607.9" stroke="#a6a6a6" stroke-width="2.75"/>
<path d="M304.32 589.35A28.95 28.95 0 1 1 313.63 557.90L318.00 559.00L311.00 566.45L302.20 558.85L305.64 560.50A20.55 20.55 0 1 0 299.03 582.82Z" fill="#7f7f7f"/>
<text transform="translate(279.22 573.70) scale(0.965 1)" font-family="'Liberation Serif', serif" font-size="25.05">Φ</text>
<path d="M387.97 589.35A28.95 28.95 0 1 1 397.28 557.90L401.65 559.00L394.65 566.45L385.85 558.85L389.29 560.50A20.55 20.55 0 1 0 382.68 582.82Z" fill="#7f7f7f"/>
<text transform="translate(362.87 573.70) scale(0.965 1)" font-family="'Liberation Serif', serif" font-size="25.05">Φ</text>
<path d="M471.59 589.35A28.95 28.95 0 1 1 480.90 557.90L485.27 559.00L478.27 566.45L469.47 558.85L472.91 560.50A20.55 20.55 0 1 0 466.30 582.82Z" fill="#7f7f7f"/>
<text transform="translate(446.49 573.70) scale(0.965 1)" font-family="'Liberation Serif', serif" font-size="25.05">Φ</text>
<path d="M555.22 589.35A28.95 28.95 0 1 1 564.53 557.90L568.90 559.00L561.90 566.45L553.10 558.85L556.54 560.50A20.55 20.55 0 1 0 549.93 582.82Z" fill="#7f7f7f"/>
<text transform="translate(530.12 573.70) scale(0.965 1)" font-family="'Liberation Serif', serif" font-size="25.05">Φ</text>
<rect x="602.80" y="565.90" width="4.4" height="4.4" fill="#000"/>
<rect x="616.90" y="565.90" width="4.4" height="4.4" fill="#000"/>
<rect x="631.50" y="565.90" width="4.4" height="4.4" fill="#000"/>
<circle cx="241.65" cy="524.2" r="15.5" fill="url(#ballw)"/>
<circle cx="241.65" cy="524.2" r="15.4" fill="url(#ball0)"/>
<circle cx="241.65" cy="608.0" r="15.5" fill="url(#ballw)"/>
<circle cx="241.65" cy="608.0" r="15.4" fill="url(#ball0)"/>
<circle cx="325.3" cy="524.2" r="15.5" fill="url(#ballw)"/>
<circle cx="325.3" cy="524.2" r="15.4" fill="url(#ball1)"/>
<circle cx="325.3" cy="608.0" r="15.5" fill="url(#ballw)"/>
<circle cx="325.3" cy="608.0" r="15.4" fill="url(#ball1)"/>
<circle cx="408.92" cy="524.2" r="15.5" fill="url(#ballw)"/>
<circle cx="408.92" cy="524.2" r="15.4" fill="url(#ball2)"/>
<circle cx="408.92" cy="608.0" r="15.5" fill="url(#ballw)"/>
<circle cx="408.92" cy="608.0" r="15.4" fill="url(#ball2)"/>
<circle cx="492.55" cy="524.2" r="15.5" fill="url(#ballw)"/>
<circle cx="492.55" cy="524.2" r="15.4" fill="url(#ball3)"/>
<circle cx="492.55" cy="608.0" r="15.5" fill="url(#ballw)"/>
<circle cx="492.55" cy="608.0" r="15.4" fill="url(#ball3)"/>
<circle cx="576.17" cy="524.2" r="15.5" fill="url(#ballw)"/>
<circle cx="576.17" cy="524.2" r="15.4" fill="url(#ball4)"/>
<circle cx="576.17" cy="608.0" r="15.5" fill="url(#ballw)"/>
<circle cx="576.17" cy="608.0" r="15.4" fill="url(#ball4)"/>
<path d="M229.80 481.00V503.10" stroke="#000" stroke-width="2.0" fill="none"/><path d="M249.10 481.25L253.50 492.10L249.10 502.95" stroke="#000" stroke-width="1.75" fill="none" stroke-miterlimit="10"/><text transform="translate(234.20 499.35) scale(0.937 1)" font-family="'Liberation Serif', serif" font-size="25.19">0</text>
<path d="M313.45 481.00V503.10" stroke="#000" stroke-width="2.0" fill="none"/><path d="M332.75 481.25L337.15 492.10L332.75 502.95" stroke="#000" stroke-width="1.75" fill="none" stroke-miterlimit="10"/><text transform="translate(317.23 499.35) scale(0.986 1)" font-family="'Liberation Serif', serif" font-size="25.07">1</text>
<path d="M397.07 481.00V503.10" stroke="#000" stroke-width="2.0" fill="none"/><path d="M416.37 481.25L420.77 492.10L416.37 502.95" stroke="#000" stroke-width="1.75" fill="none" stroke-miterlimit="10"/><text transform="translate(401.40 499.35) scale(0.978 1)" font-family="'Liberation Serif', serif" font-size="25.00">2</text>
<path d="M480.70 481.00V503.10" stroke="#000" stroke-width="2.0" fill="none"/><path d="M500.00 481.25L504.40 492.10L500.00 502.95" stroke="#000" stroke-width="1.75" fill="none" stroke-miterlimit="10"/><text transform="translate(485.09 499.35) scale(0.918 1)" font-family="'Liberation Serif', serif" font-size="25.30">3</text>
<path d="M564.32 481.00V503.10" stroke="#000" stroke-width="2.0" fill="none"/><path d="M583.62 481.25L588.02 492.10L583.62 502.95" stroke="#000" stroke-width="1.75" fill="none" stroke-miterlimit="10"/><text transform="translate(568.12 499.35) scale(1.027 1)" font-family="'Liberation Serif', serif" font-size="25.14">4</text>
<path d="M193.07 515.87V537.97" stroke="#000" stroke-width="2.0" fill="none"/><path d="M210.07 516.12L214.12 526.97L210.07 537.82" stroke="#000" stroke-width="1.75" fill="none" stroke-miterlimit="10"/><path d="M202.37 533.92V517.97M198.07 521.17L202.37 517.37L206.67 521.17" stroke="#000" stroke-width="1.6" fill="none" stroke-miterlimit="10"/>
<path d="M193.07 593.60V615.70" stroke="#000" stroke-width="2.0" fill="none"/><path d="M210.07 593.85L214.12 604.70L210.07 615.55" stroke="#000" stroke-width="1.75" fill="none" stroke-miterlimit="10"/><path d="M202.37 594.30V609.95M198.07 606.75L202.37 610.55L206.67 606.75" stroke="#000" stroke-width="1.6" fill="none" stroke-miterlimit="10"/>
<path d="M406.40 470.60 L406.36 469.37 L406.22 468.13 L406.00 466.91 L405.69 465.69 L405.29 464.49 L404.81 463.30 L404.24 462.12 L403.58 460.97 L402.85 459.84 L402.03 458.74 L401.14 457.67 L400.17 456.63 L399.12 455.62 L398.01 454.65 L396.82 453.72 L395.57 452.83 L394.26 451.98 L392.89 451.18 L391.46 450.43 L389.98 449.72 L388.45 449.07 L386.87 448.47 L385.25 447.92 L383.60 447.43 L381.91 446.99 L380.19 446.61 L378.45 446.30 L376.69 446.04 L374.91 445.84 L373.12 445.70 L371.32 445.62 L369.51 445.60 L367.71 445.64 L365.91 445.75 L364.13 445.91 L362.35 446.14 L360.60 446.43 L358.87 446.77 L357.16 447.17 L355.49 447.63 L353.85 448.15 L352.25 448.72 L350.69 449.34 L349.18 450.02 L347.72 450.74 L346.32 451.52 L344.97 452.34 L343.68 453.21 L342.46 454.11 L341.31 455.06 L340.22 456.05 L339.21 457.07 L338.27 458.13 L337.41 459.21 L336.63 460.32 L335.93 461.46 L335.31 462.62 L334.77 463.80 L334.33 465.00 L328.33 465.00 L328.77 463.80 L329.31 462.62 L329.93 461.46 L330.63 460.32 L331.41 459.21 L332.27 458.13 L333.21 457.07 L334.22 456.05 L335.31 455.06 L336.46 454.11 L337.68 453.21 L338.97 452.34 L340.32 451.52 L341.72 450.74 L343.18 450.02 L344.69 449.34 L346.25 448.72 L347.85 448.15 L349.49 447.63 L351.16 447.17 L352.87 446.77 L354.60 446.43 L356.35 446.14 L358.13 445.91 L359.91 445.75 L361.71 445.64 L363.51 445.60 L365.32 445.62 L367.12 445.70 L368.91 445.84 L370.69 446.04 L372.45 446.30 L374.19 446.61 L375.91 446.99 L377.60 447.43 L379.25 447.92 L380.87 448.47 L382.45 449.07 L383.98 449.72 L385.46 450.43 L386.89 451.18 L388.26 451.98 L389.57 452.83 L390.82 453.72 L392.01 454.65 L393.12 455.62 L394.17 456.63 L395.14 457.67 L396.03 458.74 L396.85 459.84 L397.58 460.97 L398.24 462.12 L398.81 463.30 L399.29 464.49 L399.69 465.69 L400.00 466.91 L400.22 468.13 L400.36 469.37 L400.40 470.60Z M330.00 470.70L325.00 465.00L337.00 465.00Z" fill="#000" fill-rule="nonzero" stroke="#000" stroke-width="0.5" stroke-linejoin="miter"/>
<path d="M411.90 470.60 L411.94 469.37 L412.08 468.13 L412.30 466.91 L412.61 465.69 L413.01 464.49 L413.49 463.30 L414.06 462.12 L414.72 460.97 L415.45 459.84 L416.27 458.74 L417.16 457.67 L418.13 456.63 L419.18 455.62 L420.29 454.65 L421.48 453.72 L422.73 452.83 L424.04 451.98 L425.41 451.18 L426.84 450.43 L428.32 449.72 L429.85 449.07 L431.43 448.47 L433.05 447.92 L434.70 447.43 L436.39 446.99 L438.11 446.61 L439.85 446.30 L441.61 446.04 L443.39 445.84 L445.18 445.70 L446.98 445.62 L448.79 445.60 L450.59 445.64 L452.39 445.75 L454.17 445.91 L455.95 446.14 L457.70 446.43 L459.43 446.77 L461.14 447.17 L462.81 447.63 L464.45 448.15 L466.05 448.72 L467.61 449.34 L469.12 450.02 L470.58 450.74 L471.98 451.52 L473.33 452.34 L474.62 453.21 L475.84 454.11 L476.99 455.06 L478.08 456.05 L479.09 457.07 L480.03 458.13 L480.89 459.21 L481.67 460.32 L482.37 461.46 L482.99 462.62 L483.53 463.80 L483.97 465.00 L489.97 465.00 L489.53 463.80 L488.99 462.62 L488.37 461.46 L487.67 460.32 L486.89 459.21 L486.03 458.13 L485.09 457.07 L484.08 456.05 L482.99 455.06 L481.84 454.11 L480.62 453.21 L479.33 452.34 L477.98 451.52 L476.58 450.74 L475.12 450.02 L473.61 449.34 L472.05 448.72 L470.45 448.15 L468.81 447.63 L467.14 447.17 L465.43 446.77 L463.70 446.43 L461.95 446.14 L460.17 445.91 L458.39 445.75 L456.59 445.64 L454.79 445.60 L452.98 445.62 L451.18 445.70 L449.39 445.84 L447.61 446.04 L445.85 446.30 L444.11 446.61 L442.39 446.99 L440.70 447.43 L439.05 447.92 L437.43 448.47 L435.85 449.07 L434.32 449.72 L432.84 450.43 L431.41 451.18 L430.04 451.98 L428.73 452.83 L427.48 453.72 L426.29 454.65 L425.18 455.62 L424.13 456.63 L423.16 457.67 L422.27 458.74 L421.45 459.84 L420.72 460.97 L420.06 462.12 L419.49 463.30 L419.01 464.49 L418.61 465.69 L418.30 466.91 L418.08 468.13 L417.94 469.37 L417.90 470.60Z M488.30 470.70L493.30 465.00L481.30 465.00Z" fill="#000" fill-rule="nonzero" stroke="#000" stroke-width="0.5" stroke-linejoin="miter"/>
<path d="M406.40 625.90 L406.35 627.11 L406.22 628.31 L405.98 629.51 L405.66 630.70 L405.25 631.87 L404.75 633.04 L404.16 634.18 L403.48 635.31 L402.72 636.41 L401.87 637.49 L400.94 638.54 L399.93 639.56 L398.85 640.54 L397.69 641.49 L396.46 642.40 L395.16 643.27 L393.80 644.10 L392.37 644.89 L390.89 645.63 L389.35 646.32 L387.76 646.96 L386.13 647.55 L384.45 648.09 L382.73 648.58 L380.97 649.00 L379.19 649.38 L377.38 649.69 L375.54 649.95 L373.69 650.15 L371.83 650.29 L369.96 650.38 L368.08 650.40 L366.20 650.36 L364.33 650.27 L362.47 650.11 L360.62 649.90 L358.80 649.63 L356.99 649.30 L355.21 648.91 L353.47 648.47 L351.76 647.97 L350.09 647.42 L348.46 646.82 L346.88 646.16 L345.36 645.46 L343.89 644.71 L342.48 643.91 L341.13 643.07 L339.84 642.19 L338.63 641.27 L337.49 640.31 L336.42 639.32 L335.43 638.29 L334.53 637.24 L333.70 636.16 L332.95 635.05 L332.30 633.92 L331.73 632.77 L331.25 631.60 L325.25 631.60 L325.73 632.77 L326.30 633.92 L326.95 635.05 L327.70 636.16 L328.53 637.24 L329.43 638.29 L330.42 639.32 L331.49 640.31 L332.63 641.27 L333.84 642.19 L335.13 643.07 L336.48 643.91 L337.89 644.71 L339.36 645.46 L340.88 646.16 L342.46 646.82 L344.09 647.42 L345.76 647.97 L347.47 648.47 L349.21 648.91 L350.99 649.30 L352.80 649.63 L354.62 649.90 L356.47 650.11 L358.33 650.27 L360.20 650.36 L362.08 650.40 L363.96 650.38 L365.83 650.29 L367.69 650.15 L369.54 649.95 L371.38 649.69 L373.19 649.38 L374.97 649.00 L376.73 648.58 L378.45 648.09 L380.13 647.55 L381.76 646.96 L383.35 646.32 L384.89 645.63 L386.37 644.89 L387.80 644.10 L389.16 643.27 L390.46 642.40 L391.69 641.49 L392.85 640.54 L393.93 639.56 L394.94 638.54 L395.87 637.49 L396.72 636.41 L397.48 635.31 L398.16 634.18 L398.75 633.04 L399.25 631.87 L399.66 630.70 L399.98 629.51 L400.22 628.31 L400.35 627.11 L400.40 625.90Z M326.90 625.90L322.00 631.60L334.00 631.60Z" fill="#000" fill-rule="nonzero" stroke="#000" stroke-width="0.5" stroke-linejoin="miter"/>
<path d="M411.50 625.90 L411.55 627.11 L411.68 628.31 L411.92 629.51 L412.24 630.70 L412.65 631.87 L413.15 633.04 L413.74 634.18 L414.42 635.31 L415.18 636.41 L416.03 637.49 L416.96 638.54 L417.97 639.56 L419.05 640.54 L420.21 641.49 L421.44 642.40 L422.74 643.27 L424.10 644.10 L425.53 644.89 L427.01 645.63 L428.55 646.32 L430.14 646.96 L431.77 647.55 L433.45 648.09 L435.17 648.58 L436.93 649.00 L438.71 649.38 L440.52 649.69 L442.36 649.95 L444.21 650.15 L446.07 650.29 L447.94 650.38 L449.82 650.40 L451.70 650.36 L453.57 650.27 L455.43 650.11 L457.28 649.90 L459.10 649.63 L460.91 649.30 L462.69 648.91 L464.43 648.47 L466.14 647.97 L467.81 647.42 L469.44 646.82 L471.02 646.16 L472.54 645.46 L474.01 644.71 L475.42 643.91 L476.77 643.07 L478.06 642.19 L479.27 641.27 L480.41 640.31 L481.48 639.32 L482.47 638.29 L483.37 637.24 L484.20 636.16 L484.95 635.05 L485.60 633.92 L486.17 632.77 L486.65 631.60 L492.65 631.60 L492.17 632.77 L491.60 633.92 L490.95 635.05 L490.20 636.16 L489.37 637.24 L488.47 638.29 L487.48 639.32 L486.41 640.31 L485.27 641.27 L484.06 642.19 L482.77 643.07 L481.42 643.91 L480.01 644.71 L478.54 645.46 L477.02 646.16 L475.44 646.82 L473.81 647.42 L472.14 647.97 L470.43 648.47 L468.69 648.91 L466.91 649.30 L465.10 649.63 L463.28 649.90 L461.43 650.11 L459.57 650.27 L457.70 650.36 L455.82 650.40 L453.94 650.38 L452.07 650.29 L450.21 650.15 L448.36 649.95 L446.52 649.69 L444.71 649.38 L442.93 649.00 L441.17 648.58 L439.45 648.09 L437.77 647.55 L436.14 646.96 L434.55 646.32 L433.01 645.63 L431.53 644.89 L430.10 644.10 L428.74 643.27 L427.44 642.40 L426.21 641.49 L425.05 640.54 L423.97 639.56 L422.96 638.54 L422.03 637.49 L421.18 636.41 L420.42 635.31 L419.74 634.18 L419.15 633.04 L418.65 631.87 L418.24 630.70 L417.92 629.51 L417.68 628.31 L417.55 627.11 L417.50 625.90Z M491.00 625.90L495.90 631.60L483.90 631.60Z" fill="#000" fill-rule="nonzero" stroke="#000" stroke-width="0.5" stroke-linejoin="miter"/>
<path d="M184.40 527.80 L183.06 527.84 L181.72 527.97 L180.39 528.18 L179.07 528.48 L177.77 528.86 L176.47 529.33 L175.20 529.88 L173.95 530.50 L172.73 531.21 L171.54 532.00 L170.37 532.85 L169.24 533.79 L168.15 534.79 L167.10 535.86 L166.09 537.00 L165.12 538.20 L164.20 539.46 L163.34 540.78 L162.52 542.15 L161.75 543.57 L161.05 545.04 L160.40 546.56 L159.80 548.11 L159.27 549.70 L158.80 551.32 L158.39 552.97 L158.05 554.64 L157.77 556.33 L157.55 558.04 L157.40 559.76 L157.32 561.49 L157.30 563.22 L157.35 564.95 L157.47 566.68 L157.65 568.39 L157.89 570.09 L158.21 571.78 L158.58 573.44 L159.02 575.07 L159.52 576.68 L160.08 578.25 L160.70 579.78 L161.38 581.28 L162.12 582.72 L162.91 584.12 L163.75 585.47 L164.64 586.76 L165.59 587.99 L166.57 589.16 L167.60 590.27 L168.68 591.31 L169.79 592.28 L170.93 593.17 L172.11 594.00 L173.32 594.74 L174.56 595.41 L175.82 596.00 L177.10 596.51 L178.40 596.93 L178.40 603.63 L177.10 603.21 L175.82 602.70 L174.56 602.11 L173.32 601.44 L172.11 600.70 L170.93 599.87 L169.79 598.98 L168.68 598.01 L167.60 596.97 L166.57 595.86 L165.59 594.69 L164.64 593.46 L163.75 592.17 L162.91 590.82 L162.12 589.42 L161.38 587.98 L160.70 586.48 L160.08 584.95 L159.52 583.38 L159.02 581.77 L158.58 580.14 L158.21 578.48 L157.89 576.79 L157.65 575.09 L157.47 573.38 L157.35 571.65 L157.30 569.92 L157.32 568.19 L157.40 566.46 L157.55 564.74 L157.77 563.03 L158.05 561.34 L158.39 559.67 L158.80 558.02 L159.27 556.40 L159.80 554.81 L160.40 553.26 L161.05 551.74 L161.75 550.27 L162.52 548.85 L163.34 547.48 L164.20 546.16 L165.12 544.90 L166.09 543.70 L167.10 542.56 L168.15 541.49 L169.24 540.49 L170.37 539.55 L171.54 538.70 L172.73 537.91 L173.95 537.20 L175.20 536.58 L176.47 536.03 L177.77 535.56 L179.07 535.18 L180.39 534.88 L181.72 534.67 L183.06 534.54 L184.40 534.50Z M184.50 601.60L178.50 594.20L178.20 606.60Z" fill="#000" stroke="#000" stroke-width="0.5"/>
<text transform="translate(120.52 574.09) scale(0.780 1)" font-family="'Liberation Serif', serif" font-size="31.30" font-style="italic">J</text>
<text transform="translate(131.90 574.41) scale(1.088 1)" font-family="'Liberation Serif', serif" font-size="19.86" font-style="italic">y</text>
<text transform="translate(301.48 435.79) scale(0.780 1)" font-family="'Liberation Serif', serif" font-size="31.75" font-style="italic">J</text>
<text transform="translate(312.58 436.70) scale(1.197 1)" font-family="'Liberation Serif', serif" font-size="19.17" font-style="italic">x</text>
<text transform="translate(324.00 430.98) scale(1.141 1)" font-family="'Liberation Serif', serif" font-size="22.66" font-style="italic">e</text>
<rect x="338.90" y="416.90" width="10.70" height="1.25" fill="#000"/>
<text transform="translate(349.92 422.40) scale(1.244 1)" font-family="'Liberation Serif', serif" font-size="18.43" font-style="italic">i</text>
<text transform="translate(355.68 422.62) scale(1.450 1)" font-family="'Liberation Serif', serif" font-size="16.80" font-style="italic">φ</text>
<rect x="371.00" y="416.90" width="10.90" height="1.25" fill="#000"/>
<text transform="translate(381.92 422.40) scale(1.244 1)" font-family="'Liberation Serif', serif" font-size="18.43" font-style="italic">i</text>
<text transform="translate(387.91 422.43) scale(1.450 1)" font-family="'Liberation Serif', serif" font-size="16.93" font-style="italic">θ</text>
<text transform="translate(435.93 435.79) scale(0.780 1)" font-family="'Liberation Serif', serif" font-size="31.75" font-style="italic">J</text>
<text transform="translate(446.97 436.70) scale(1.151 1)" font-family="'Liberation Serif', serif" font-size="19.17" font-style="italic">x</text>
<text transform="translate(456.99 439.42) scale(1.000 1)" font-family="'Liberation Serif', serif" font-size="22.35">+</text>
<text transform="translate(468.95 436.70) scale(1.342 1)" font-family="'Liberation Serif', serif" font-size="16.51">1</text>
<text transform="translate(480.44 430.98) scale(1.084 1)" font-family="'Liberation Serif', serif" font-size="22.66" font-style="italic">e</text>
<text transform="translate(492.52 422.40) scale(1.244 1)" font-family="'Liberation Serif', serif" font-size="18.43" font-style="italic">i</text>
<text transform="translate(498.29 422.62) scale(1.416 1)" font-family="'Liberation Serif', serif" font-size="16.80" font-style="italic">φ</text>
<text transform="translate(511.12 425.35) scale(1.000 1)" font-family="'Liberation Serif', serif" font-size="23.64">+</text>
<text transform="translate(525.12 422.40) scale(1.244 1)" font-family="'Liberation Serif', serif" font-size="18.43" font-style="italic">i</text>
<text transform="translate(531.11 422.43) scale(1.450 1)" font-family="'Liberation Serif', serif" font-size="16.93" font-style="italic">θ</text>
<text transform="translate(308.28 684.69) scale(0.780 1)" font-family="'Liberation Serif', serif" font-size="31.75" font-style="italic">J</text>
<text transform="translate(318.98 685.60) scale(1.209 1)" font-family="'Liberation Serif', serif" font-size="19.17" font-style="italic">x</text>
<text transform="translate(330.76 679.88) scale(1.062 1)" font-family="'Liberation Serif', serif" font-size="22.66" font-style="italic">e</text>
<text transform="translate(343.12 671.30) scale(1.244 1)" font-family="'Liberation Serif', serif" font-size="18.43" font-style="italic">i</text>
<text transform="translate(348.98 671.52) scale(1.450 1)" font-family="'Liberation Serif', serif" font-size="16.80" font-style="italic">φ</text>
<rect x="364.90" y="665.80" width="10.00" height="1.25" fill="#000"/>
<text transform="translate(375.32 671.30) scale(1.244 1)" font-family="'Liberation Serif', serif" font-size="18.43" font-style="italic">i</text>
<text transform="translate(381.21 671.33) scale(1.450 1)" font-family="'Liberation Serif', serif" font-size="16.93" font-style="italic">θ</text>
<text transform="translate(432.42 684.69) scale(0.794 1)" font-family="'Liberation Serif', serif" font-size="31.75" font-style="italic">J</text>
<text transform="translate(443.27 685.60) scale(1.151 1)" font-family="'Liberation Serif', serif" font-size="19.17" font-style="italic">x</text>
<text transform="translate(453.39 688.32) scale(1.000 1)" font-family="'Liberation Serif', serif" font-size="22.35">+</text>
<text transform="translate(465.03 685.60) scale(1.359 1)" font-family="'Liberation Serif', serif" font-size="16.51">1</text>
<text transform="translate(476.57 679.88) scale(1.197 1)" font-family="'Liberation Serif', serif" font-size="22.66" font-style="italic">e</text>
<rect x="491.50" y="665.80" width="10.70" height="1.25" fill="#000"/>
<text transform="translate(502.92 671.30) scale(1.244 1)" font-family="'Liberation Serif', serif" font-size="18.43" font-style="italic">i</text>
<text transform="translate(508.88 671.52) scale(1.450 1)" font-family="'Liberation Serif', serif" font-size="16.80" font-style="italic">φ</text>
<text transform="translate(522.74 674.11) scale(1.000 1)" font-family="'Liberation Serif', serif" font-size="23.21">+</text>
<text transform="translate(535.32 671.30) scale(1.244 1)" font-family="'Liberation Serif', serif" font-size="18.43" font-style="italic">i</text>
<text transform="translate(541.16 671.33) scale(1.450 1)" font-family="'Liberation Serif', serif" font-size="16.93" font-style="italic">θ</text>
</svg></body></html>
